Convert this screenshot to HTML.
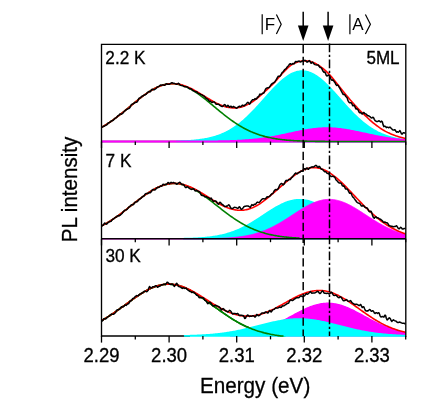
<!DOCTYPE html>
<html><head><meta charset="utf-8"><title>PL spectra</title>
<style>html,body{margin:0;padding:0;background:#fff;}body{width:436px;height:409px;position:relative;overflow:hidden;font-family:"Liberation Sans",sans-serif;}</style></head>
<body>
<svg width="436" height="409" viewBox="0 0 436 409" style="position:absolute;left:0;top:0;will-change:transform">
<rect width="436" height="409" fill="#fff"/>
<defs><clipPath id="c"><rect x="101.5" y="44.3" width="304.3" height="293.7"/></clipPath></defs>
<g clip-path="url(#c)">
<line x1="101.5" y1="141.5" x2="405.8" y2="141.5" stroke="#000" stroke-width="1.35"/>
<path d="M176.50,141.21 L177.50,141.18 L178.50,141.15 L179.50,141.12 L180.50,141.09 L181.50,141.05 L182.50,141.01 L183.50,140.97 L184.50,140.93 L185.50,140.88 L186.50,140.83 L187.50,140.77 L188.50,140.71 L189.50,140.65 L190.50,140.58 L191.50,140.50 L192.50,140.42 L193.50,140.34 L194.50,140.25 L195.50,140.15 L196.50,140.05 L197.50,139.94 L198.50,139.82 L199.50,139.69 L200.50,139.56 L201.50,139.42 L202.50,139.27 L203.50,139.11 L204.50,138.94 L205.50,138.76 L206.50,138.57 L207.50,138.37 L208.50,138.16 L209.50,137.94 L210.50,137.70 L211.50,137.45 L212.50,137.19 L213.50,136.91 L214.50,136.62 L215.50,136.32 L216.50,136.00 L217.50,135.66 L218.50,135.31 L219.50,134.94 L220.50,134.56 L221.50,134.15 L222.50,133.73 L223.50,133.29 L224.50,132.83 L225.50,132.36 L226.50,131.86 L227.50,131.34 L228.50,130.80 L229.50,130.24 L230.50,129.66 L231.50,129.06 L232.50,128.44 L233.50,127.80 L234.50,127.13 L235.50,126.45 L236.50,125.74 L237.50,125.01 L238.50,124.25 L239.50,123.48 L240.50,122.68 L241.50,121.87 L242.50,121.03 L243.50,120.17 L244.50,119.29 L245.50,118.38 L246.50,117.46 L247.50,116.52 L248.50,115.57 L249.50,114.59 L250.50,113.60 L251.50,112.58 L252.50,111.56 L253.50,110.52 L254.50,109.46 L255.50,108.39 L256.50,107.31 L257.50,106.22 L258.50,105.12 L259.50,104.02 L260.50,102.90 L261.50,101.78 L262.50,100.66 L263.50,99.53 L264.50,98.40 L265.50,97.27 L266.50,96.15 L267.50,95.03 L268.50,93.91 L269.50,92.80 L270.50,91.70 L271.50,90.61 L272.50,89.53 L273.50,88.47 L274.50,87.42 L275.50,86.39 L276.50,85.38 L277.50,84.39 L278.50,83.42 L279.50,82.48 L280.50,81.57 L281.50,80.68 L282.50,79.82 L283.50,79.00 L284.50,78.21 L285.50,77.45 L286.50,76.73 L287.50,76.04 L288.50,75.40 L289.50,74.79 L290.50,74.23 L291.50,73.70 L292.50,73.23 L293.50,72.79 L294.50,72.40 L295.50,72.06 L296.50,71.77 L297.50,71.52 L298.50,71.32 L299.50,71.17 L300.50,71.06 L301.50,71.01 L302.50,71.00 L303.50,71.05 L304.50,71.14 L305.50,71.28 L306.50,71.47 L307.50,71.71 L308.50,72.00 L309.50,72.33 L310.50,72.71 L311.50,73.14 L312.50,73.60 L313.50,74.12 L314.50,74.67 L315.50,75.27 L316.50,75.91 L317.50,76.59 L318.50,77.30 L319.50,78.05 L320.50,78.84 L321.50,79.66 L322.50,80.51 L323.50,81.39 L324.50,82.30 L325.50,83.23 L326.50,84.20 L327.50,85.18 L328.50,86.19 L329.50,87.21 L330.50,88.26 L331.50,89.32 L332.50,90.39 L333.50,91.48 L334.50,92.58 L335.50,93.69 L336.50,94.80 L337.50,95.92 L338.50,97.05 L339.50,98.18 L340.50,99.30 L341.50,100.43 L342.50,101.56 L343.50,102.68 L344.50,103.79 L345.50,104.90 L346.50,106.00 L347.50,107.10 L348.50,108.18 L349.50,109.25 L350.50,110.31 L351.50,111.35 L352.50,112.38 L353.50,113.39 L354.50,114.39 L355.50,115.37 L356.50,116.33 L357.50,117.28 L358.50,118.20 L359.50,119.11 L360.50,119.99 L361.50,120.86 L362.50,121.70 L363.50,122.52 L364.50,123.32 L365.50,124.10 L366.50,124.86 L367.50,125.59 L368.50,126.31 L369.50,127.00 L370.50,127.67 L371.50,128.31 L372.50,128.94 L373.50,129.55 L374.50,130.13 L375.50,130.69 L376.50,131.23 L377.50,131.76 L378.50,132.26 L379.50,132.74 L380.50,133.20 L381.50,133.65 L382.50,134.07 L383.50,134.48 L384.50,134.87 L385.50,135.24 L386.50,135.59 L387.50,135.93 L388.50,136.26 L389.50,136.56 L390.50,136.86 L391.50,137.14 L392.50,137.40 L393.50,137.65 L394.50,137.89 L395.50,138.12 L396.50,138.33 L397.50,138.53 L398.50,138.72 L399.50,138.91 L400.50,139.08 L401.50,139.24 L402.50,139.39 L403.50,139.53 L404.50,139.67 L405.50,139.79 L405.50,141.50 L176.50,141.50 Z" fill="#00ffff" stroke="#00ffff" stroke-width="1.4" stroke-linejoin="round"/>
<path d="M101.50,141.50 L102.50,141.50 L103.50,141.50 L104.50,141.50 L105.50,141.50 L106.50,141.50 L107.50,141.50 L108.50,141.50 L109.50,141.50 L110.50,141.50 L111.50,141.50 L112.50,141.50 L113.50,141.50 L114.50,141.50 L115.50,141.50 L116.50,141.50 L117.50,141.50 L118.50,141.50 L119.50,141.50 L120.50,141.50 L121.50,141.50 L122.50,141.50 L123.50,141.50 L124.50,141.50 L125.50,141.50 L126.50,141.50 L127.50,141.50 L128.50,141.50 L129.50,141.50 L130.50,141.50 L131.50,141.50 L132.50,141.50 L133.50,141.50 L134.50,141.50 L135.50,141.50 L136.50,141.50 L137.50,141.50 L138.50,141.50 L139.50,141.50 L140.50,141.50 L141.50,141.50 L142.50,141.50 L143.50,141.50 L144.50,141.50 L145.50,141.50 L146.50,141.50 L147.50,141.50 L148.50,141.50 L149.50,141.50 L150.50,141.50 L151.50,141.50 L152.50,141.50 L153.50,141.50 L154.50,141.50 L155.50,141.50 L156.50,141.50 L157.50,141.50 L158.50,141.50 L159.50,141.50 L160.50,141.50 L161.50,141.50 L162.50,141.50 L163.50,141.50 L164.50,141.50 L165.50,141.50 L166.50,141.50 L167.50,141.50 L168.50,141.50 L169.50,141.50 L170.50,141.50 L171.50,141.50 L172.50,141.50 L173.50,141.50 L174.50,141.50 L175.50,141.50 L176.50,141.50 L177.50,141.50 L178.50,141.50 L179.50,141.50 L180.50,141.49 L181.50,141.49 L182.50,141.49 L183.50,141.49 L184.50,141.49 L185.50,141.49 L186.50,141.49 L187.50,141.49 L188.50,141.49 L189.50,141.49 L190.50,141.49 L191.50,141.48 L192.50,141.48 L193.50,141.48 L194.50,141.48 L195.50,141.48 L196.50,141.47 L197.50,141.47 L198.50,141.47 L199.50,141.46 L200.50,141.46 L201.50,141.46 L202.50,141.45 L203.50,141.45 L204.50,141.44 L205.50,141.44 L206.50,141.43 L207.50,141.43 L208.50,141.42 L209.50,141.41 L210.50,141.41 L211.50,141.40 L212.50,141.39 L213.50,141.38 L214.50,141.37 L215.50,141.36 L216.50,141.35 L217.50,141.33 L218.50,141.32 L219.50,141.30 L220.50,141.29 L221.50,141.27 L222.50,141.25 L223.50,141.23 L224.50,141.21 L225.50,141.19 L226.50,141.17 L227.50,141.14 L228.50,141.12 L229.50,141.09 L230.50,141.06 L231.50,141.02 L232.50,140.99 L233.50,140.95 L234.50,140.92 L235.50,140.88 L236.50,140.83 L237.50,140.79 L238.50,140.74 L239.50,140.69 L240.50,140.63 L241.50,140.58 L242.50,140.52 L243.50,140.46 L244.50,140.39 L245.50,140.32 L246.50,140.25 L247.50,140.18 L248.50,140.10 L249.50,140.02 L250.50,139.93 L251.50,139.84 L252.50,139.75 L253.50,139.65 L254.50,139.55 L255.50,139.44 L256.50,139.33 L257.50,139.22 L258.50,139.10 L259.50,138.98 L260.50,138.86 L261.50,138.72 L262.50,138.59 L263.50,138.45 L264.50,138.31 L265.50,138.16 L266.50,138.01 L267.50,137.85 L268.50,137.69 L269.50,137.52 L270.50,137.36 L271.50,137.18 L272.50,137.01 L273.50,136.82 L274.50,136.64 L275.50,136.45 L276.50,136.26 L277.50,136.07 L278.50,135.87 L279.50,135.67 L280.50,135.46 L281.50,135.26 L282.50,135.05 L283.50,134.84 L284.50,134.62 L285.50,134.41 L286.50,134.19 L287.50,133.98 L288.50,133.76 L289.50,133.54 L290.50,133.32 L291.50,133.11 L292.50,132.89 L293.50,132.67 L294.50,132.46 L295.50,132.24 L296.50,132.03 L297.50,131.82 L298.50,131.61 L299.50,131.41 L300.50,131.21 L301.50,131.01 L302.50,130.82 L303.50,130.63 L304.50,130.45 L305.50,130.27 L306.50,130.09 L307.50,129.92 L308.50,129.76 L309.50,129.61 L310.50,129.46 L311.50,129.32 L312.50,129.18 L313.50,129.06 L314.50,128.94 L315.50,128.83 L316.50,128.72 L317.50,128.63 L318.50,128.55 L319.50,128.47 L320.50,128.40 L321.50,128.35 L322.50,128.30 L323.50,128.26 L324.50,128.23 L325.50,128.21 L326.50,128.20 L327.50,128.20 L328.50,128.21 L329.50,128.23 L330.50,128.26 L331.50,128.30 L332.50,128.35 L333.50,128.40 L334.50,128.47 L335.50,128.55 L336.50,128.63 L337.50,128.72 L338.50,128.83 L339.50,128.94 L340.50,129.06 L341.50,129.18 L342.50,129.32 L343.50,129.46 L344.50,129.61 L345.50,129.76 L346.50,129.92 L347.50,130.09 L348.50,130.27 L349.50,130.45 L350.50,130.63 L351.50,130.82 L352.50,131.01 L353.50,131.21 L354.50,131.41 L355.50,131.61 L356.50,131.82 L357.50,132.03 L358.50,132.24 L359.50,132.46 L360.50,132.67 L361.50,132.89 L362.50,133.11 L363.50,133.32 L364.50,133.54 L365.50,133.76 L366.50,133.98 L367.50,134.19 L368.50,134.41 L369.50,134.62 L370.50,134.84 L371.50,135.05 L372.50,135.26 L373.50,135.46 L374.50,135.67 L375.50,135.87 L376.50,136.07 L377.50,136.26 L378.50,136.45 L379.50,136.64 L380.50,136.82 L381.50,137.01 L382.50,137.18 L383.50,137.36 L384.50,137.52 L385.50,137.69 L386.50,137.85 L387.50,138.01 L388.50,138.16 L389.50,138.31 L390.50,138.45 L391.50,138.59 L392.50,138.72 L393.50,138.86 L394.50,138.98 L395.50,139.10 L396.50,139.22 L397.50,139.33 L398.50,139.44 L399.50,139.55 L400.50,139.65 L401.50,139.75 L402.50,139.84 L403.50,139.93 L404.50,140.02 L405.50,140.10 L405.50,141.50 L101.50,141.50 Z" fill="#ff00ff" stroke="#ff00ff" stroke-width="1.9" stroke-linejoin="round"/>
<path d="M101.50,127.37 L102.50,126.80 L103.50,126.21 L104.50,125.61 L105.50,125.00 L106.50,124.37 L107.50,123.73 L108.50,123.07 L109.50,122.40 L110.50,121.72 L111.50,121.02 L112.50,120.31 L113.50,119.59 L114.50,118.86 L115.50,118.11 L116.50,117.36 L117.50,116.59 L118.50,115.82 L119.50,115.04 L120.50,114.25 L121.50,113.45 L122.50,112.64 L123.50,111.83 L124.50,111.01 L125.50,110.18 L126.50,109.36 L127.50,108.53 L128.50,107.69 L129.50,106.86 L130.50,106.03 L131.50,105.19 L132.50,104.36 L133.50,103.53 L134.50,102.70 L135.50,101.88 L136.50,101.06 L137.50,100.25 L138.50,99.45 L139.50,98.65 L140.50,97.87 L141.50,97.10 L142.50,96.34 L143.50,95.59 L144.50,94.85 L145.50,94.13 L146.50,93.43 L147.50,92.74 L148.50,92.08 L149.50,91.43 L150.50,90.80 L151.50,90.19 L152.50,89.61 L153.50,89.04 L154.50,88.51 L155.50,87.99 L156.50,87.51 L157.50,87.04 L158.50,86.61 L159.50,86.20 L160.50,85.83 L161.50,85.48 L162.50,85.16 L163.50,84.87 L164.50,84.61 L165.50,84.39 L166.50,84.19 L167.50,84.03 L168.50,83.90 L169.50,83.80 L170.50,83.74 L171.50,83.70 L172.50,83.70 L173.50,83.74 L174.50,83.80 L175.50,83.90 L176.50,84.03 L177.50,84.19 L178.50,84.39 L179.50,84.61 L180.50,84.87 L181.50,85.16 L182.50,85.48 L183.50,85.83 L184.50,86.20 L185.50,86.61 L186.50,87.04 L187.50,87.51 L188.50,87.99 L189.50,88.51 L190.50,89.04 L191.50,89.61 L192.50,90.19 L193.50,90.80 L194.50,91.43 L195.50,92.08 L196.50,92.74 L197.50,93.43 L198.50,94.13 L199.50,94.85 L200.50,95.59 L201.50,96.34 L202.50,97.10 L203.50,97.87 L204.50,98.65 L205.50,99.45 L206.50,100.25 L207.50,101.06 L208.50,101.88 L209.50,102.70 L210.50,103.53 L211.50,104.36 L212.50,105.19 L213.50,106.03 L214.50,106.86 L215.50,107.69 L216.50,108.53 L217.50,109.36 L218.50,110.18 L219.50,111.01 L220.50,111.83 L221.50,112.64 L222.50,113.45 L223.50,114.25 L224.50,115.04 L225.50,115.82 L226.50,116.59 L227.50,117.36 L228.50,118.11 L229.50,118.86 L230.50,119.59 L231.50,120.31 L232.50,121.02 L233.50,121.72 L234.50,122.40 L235.50,123.07 L236.50,123.73 L237.50,124.37 L238.50,125.00 L239.50,125.61 L240.50,126.21 L241.50,126.80 L242.50,127.37 L243.50,127.93 L244.50,128.47 L245.50,129.00 L246.50,129.51 L247.50,130.01 L248.50,130.50 L249.50,130.97 L250.50,131.42 L251.50,131.86 L252.50,132.29 L253.50,132.70 L254.50,133.10 L255.50,133.49 L256.50,133.86 L257.50,134.22 L258.50,134.57 L259.50,134.90 L260.50,135.22 L261.50,135.53 L262.50,135.83 L263.50,136.11 L264.50,136.39 L265.50,136.65 L266.50,136.90 L267.50,137.14 L268.50,137.37 L269.50,137.59 L270.50,137.81 L271.50,138.01 L272.50,138.20 L273.50,138.38 L274.50,138.56 L275.50,138.73 L276.50,138.88 L277.50,139.04 L278.50,139.18 L279.50,139.32 L280.50,139.45 L281.50,139.57 L282.50,139.69 L283.50,139.80 L284.50,139.90 L285.50,140.00 L286.50,140.09 L287.50,140.18 L288.50,140.27 L289.50,140.35 L290.50,140.42 L291.50,140.49 L292.50,140.56 L293.50,140.62 L294.50,140.68 L295.50,140.73 L296.50,140.79 L297.50,140.83 L298.50,140.88 L299.50,140.92 L300.50,140.96 L301.50,141.00 L302.50,141.04 L303.50,141.07 L304.50,141.10 L305.50,141.13 L306.50,141.16 L307.50,141.18 L308.50,141.21 L309.50,141.23 L310.50,141.25 L311.50,141.27 L312.50,141.29 L313.50,141.30 L314.50,141.32 L315.50,141.33 L316.50,141.34 L317.50,141.36 L318.50,141.37 L319.50,141.38 L320.50,141.39 L321.50,141.40 L322.50,141.41 L323.50,141.41 L324.50,141.42 L325.50,141.43 L326.50,141.43 L327.50,141.44 L328.50,141.44 L329.50,141.45 L330.50,141.45 L331.50,141.46 L332.50,141.46 L333.50,141.46 L334.50,141.47 L335.50,141.47 L336.50,141.47 L337.50,141.48 L338.50,141.48 L339.50,141.48 L340.50,141.48 L341.50,141.48 L342.50,141.48 L343.50,141.49 L344.50,141.49 L345.50,141.49 L346.50,141.49 L347.50,141.49 L348.50,141.49 L349.50,141.49 L350.50,141.49 L351.50,141.49 L352.50,141.49 L353.50,141.49 L354.50,141.50 L355.50,141.50 L356.50,141.50 L357.50,141.50 L358.50,141.50 L359.50,141.50 L360.50,141.50 L361.50,141.50 L362.50,141.50 L363.50,141.50 L364.50,141.50 L365.50,141.50 L366.50,141.50 L367.50,141.50 L368.50,141.50 L369.50,141.50 L370.50,141.50 L371.50,141.50 L372.50,141.50 L373.50,141.50 L374.50,141.50 L375.50,141.50 L376.50,141.50 L377.50,141.50 L378.50,141.50 L379.50,141.50 L380.50,141.50 L381.50,141.50 L382.50,141.50 L383.50,141.50 L384.50,141.50 L385.50,141.50 L386.50,141.50 L387.50,141.50 L388.50,141.50 L389.50,141.50 L390.50,141.50 L391.50,141.50 L392.50,141.50 L393.50,141.50 L394.50,141.50 L395.50,141.50 L396.50,141.50 L397.50,141.50 L398.50,141.50 L399.50,141.50 L400.50,141.50 L401.50,141.50 L402.50,141.50 L403.50,141.50 L404.50,141.50 L405.50,141.50" fill="none" stroke="#008000" stroke-width="1.6" stroke-linejoin="round" stroke-linecap="butt"/>
<path d="M101.50,127.37 L102.50,126.80 L103.50,126.22 L104.50,125.62 L105.50,125.01 L106.50,124.38 L107.50,123.74 L108.50,123.09 L109.50,122.42 L110.50,121.74 L111.50,121.04 L112.50,120.34 L113.50,119.62 L114.50,118.89 L115.50,118.15 L116.50,117.39 L117.50,116.63 L118.50,115.86 L119.50,115.08 L120.50,114.29 L121.50,113.49 L122.50,112.69 L123.50,111.88 L124.50,111.06 L125.50,110.24 L126.50,109.42 L127.50,108.59 L128.50,107.76 L129.50,106.92 L130.50,106.09 L131.50,105.26 L132.50,104.43 L133.50,103.60 L134.50,102.77 L135.50,101.95 L136.50,101.14 L137.50,100.33 L138.50,99.53 L139.50,98.74 L140.50,97.95 L141.50,97.18 L142.50,96.42 L143.50,95.67 L144.50,94.94 L145.50,94.22 L146.50,93.52 L147.50,92.83 L148.50,92.17 L149.50,91.52 L150.50,90.89 L151.50,90.28 L152.50,89.70 L153.50,89.13 L154.50,88.59 L155.50,88.08 L156.50,87.59 L157.50,87.13 L158.50,86.69 L159.50,86.28 L160.50,85.90 L161.50,85.55 L162.50,85.22 L163.50,84.93 L164.50,84.66 L165.50,84.43 L166.50,84.23 L167.50,84.05 L168.50,83.91 L169.50,83.80 L170.50,83.73 L171.50,83.68 L172.50,83.66 L173.50,83.68 L174.50,83.73 L175.50,83.80 L176.50,83.91 L177.50,84.05 L178.50,84.22 L179.50,84.41 L180.50,84.64 L181.50,84.89 L182.50,85.17 L183.50,85.48 L184.50,85.82 L185.50,86.17 L186.50,86.56 L187.50,86.96 L188.50,87.39 L189.50,87.84 L190.50,88.31 L191.50,88.80 L192.50,89.31 L193.50,89.83 L194.50,90.37 L195.50,90.92 L196.50,91.48 L197.50,92.06 L198.50,92.64 L199.50,93.24 L200.50,93.84 L201.50,94.44 L202.50,95.05 L203.50,95.66 L204.50,96.28 L205.50,96.89 L206.50,97.50 L207.50,98.10 L208.50,98.71 L209.50,99.30 L210.50,99.89 L211.50,100.46 L212.50,101.03 L213.50,101.58 L214.50,102.11 L215.50,102.64 L216.50,103.14 L217.50,103.62 L218.50,104.09 L219.50,104.53 L220.50,104.95 L221.50,105.35 L222.50,105.72 L223.50,106.06 L224.50,106.38 L225.50,106.67 L226.50,106.93 L227.50,107.15 L228.50,107.35 L229.50,107.51 L230.50,107.65 L231.50,107.77 L232.50,107.85 L233.50,107.90 L234.50,107.91 L235.50,107.89 L236.50,107.82 L237.50,107.72 L238.50,107.58 L239.50,107.41 L240.50,107.19 L241.50,106.94 L242.50,106.65 L243.50,106.32 L244.50,105.96 L245.50,105.55 L246.50,105.11 L247.50,104.63 L248.50,104.12 L249.50,103.57 L250.50,102.99 L251.50,102.37 L252.50,101.72 L253.50,101.04 L254.50,100.33 L255.50,99.59 L256.50,98.82 L257.50,98.02 L258.50,97.20 L259.50,96.35 L260.50,95.50 L261.50,94.64 L262.50,93.76 L263.50,92.87 L264.50,91.96 L265.50,91.03 L266.50,90.10 L267.50,89.15 L268.50,88.20 L269.50,87.24 L270.50,86.27 L271.50,85.31 L272.50,84.34 L273.50,83.38 L274.50,82.42 L275.50,81.34 L276.50,80.15 L277.50,78.98 L278.50,77.81 L279.50,76.66 L280.50,75.53 L281.50,74.42 L282.50,73.33 L283.50,72.25 L284.50,71.18 L285.50,70.14 L286.50,69.13 L287.50,68.15 L288.50,67.21 L289.50,66.30 L290.50,65.54 L291.50,64.91 L292.50,64.33 L293.50,63.79 L294.50,63.29 L295.50,62.84 L296.50,62.43 L297.50,62.07 L298.50,61.76 L299.50,61.49 L300.50,61.27 L301.50,61.10 L302.50,60.99 L303.50,60.92 L304.50,60.88 L305.50,60.87 L306.50,60.91 L307.50,61.01 L308.50,61.15 L309.50,61.35 L310.50,61.59 L311.50,61.89 L312.50,62.23 L313.50,62.63 L314.50,63.07 L315.50,63.55 L316.50,64.08 L317.50,64.66 L318.50,65.27 L319.50,65.93 L320.50,66.63 L321.50,67.38 L322.50,68.15 L323.50,68.97 L324.50,69.82 L325.50,70.71 L326.50,71.62 L327.50,72.57 L328.50,73.55 L329.50,74.60 L330.50,75.73 L331.50,76.89 L332.50,78.07 L333.50,79.26 L334.50,80.48 L335.50,81.71 L336.50,82.95 L337.50,84.21 L338.50,85.47 L339.50,86.75 L340.50,88.00 L341.50,89.23 L342.50,90.46 L343.50,91.69 L344.50,92.92 L345.50,94.15 L346.50,95.38 L347.50,96.60 L348.50,97.82 L349.50,99.02 L350.50,100.20 L351.50,101.35 L352.50,102.49 L353.50,103.61 L354.50,104.72 L355.50,105.81 L356.50,106.89 L357.50,107.95 L358.50,108.99 L359.50,110.02 L360.50,111.03 L361.50,112.01 L362.50,112.98 L363.50,113.92 L364.50,114.85 L365.50,115.81 L366.50,116.80 L367.50,117.77 L368.50,118.72 L369.50,119.65 L370.50,120.56 L371.50,121.44 L372.50,122.29 L373.50,123.13 L374.50,123.94 L375.50,124.73 L376.50,125.49 L377.50,126.23 L378.50,126.95 L379.50,127.65 L380.50,128.32 L381.50,128.97 L382.50,129.60 L383.50,130.21 L384.50,130.80 L385.50,131.35 L386.50,131.87 L387.50,132.37 L388.50,132.85 L389.50,133.30 L390.50,133.75 L391.50,134.17 L392.50,134.58 L393.50,134.96 L394.50,135.34 L395.50,135.69 L396.50,136.04 L397.50,136.36 L398.50,136.68 L399.50,136.98 L400.50,137.26 L401.50,137.54 L402.50,137.80 L403.50,138.05 L404.50,138.29 L405.50,138.51" fill="none" stroke="#ff0000" stroke-width="1.6" stroke-linejoin="round" stroke-linecap="butt"/>
<path d="M101.50,126.99 L102.30,126.96 L103.10,126.66 L103.90,126.16 L104.70,125.92 L105.50,125.35 L106.30,125.00 L107.10,124.64 L107.90,123.36 L108.70,122.70 L109.50,122.60 L110.30,121.98 L111.10,121.22 L111.90,120.77 L112.70,120.56 L113.50,120.09 L114.30,118.98 L115.10,118.17 L115.90,117.89 L116.70,117.37 L117.50,116.21 L118.30,115.63 L119.10,115.12 L119.90,114.07 L120.70,114.06 L121.50,114.17 L122.30,113.67 L123.10,112.95 L123.90,111.70 L124.70,110.98 L125.50,110.40 L126.30,109.61 L127.10,109.28 L127.90,108.77 L128.70,108.54 L129.50,108.01 L130.30,106.78 L131.10,105.05 L131.90,104.17 L132.70,104.11 L133.50,103.60 L134.30,102.99 L135.10,102.51 L135.90,102.35 L136.70,102.34 L137.50,101.47 L138.30,99.60 L139.10,98.17 L139.90,98.05 L140.70,97.62 L141.50,96.51 L142.30,96.09 L143.10,95.81 L143.90,95.24 L144.70,94.80 L145.50,94.64 L146.30,94.14 L147.10,93.11 L147.90,92.21 L148.70,91.56 L149.50,91.73 L150.30,91.77 L151.10,90.51 L151.90,89.33 L152.70,89.51 L153.50,89.78 L154.30,89.64 L155.10,89.06 L155.90,88.55 L156.70,87.84 L157.50,86.95 L158.30,86.64 L159.10,86.37 L159.90,85.36 L160.70,85.08 L161.50,85.32 L162.30,85.12 L163.10,84.81 L163.90,85.19 L164.70,85.32 L165.50,84.47 L166.30,83.73 L167.10,84.00 L167.90,84.36 L168.70,84.32 L169.50,84.16 L170.30,83.70 L171.10,82.91 L171.90,82.67 L172.70,83.05 L173.50,83.24 L174.30,83.31 L175.10,83.67 L175.90,84.00 L176.70,84.31 L177.50,83.87 L178.30,83.24 L179.10,83.79 L179.90,84.72 L180.70,85.37 L181.50,85.62 L182.30,85.46 L183.10,85.89 L183.90,86.51 L184.70,86.68 L185.50,86.72 L186.30,86.71 L187.10,86.88 L187.90,87.34 L188.70,88.22 L189.50,88.78 L190.30,88.68 L191.10,88.74 L191.90,89.57 L192.70,90.47 L193.50,90.68 L194.30,91.07 L195.10,91.71 L195.90,91.82 L196.70,91.81 L197.50,92.77 L198.30,93.60 L199.10,93.57 L199.90,93.94 L200.70,94.47 L201.50,94.63 L202.30,95.15 L203.10,95.64 L203.90,96.03 L204.70,96.84 L205.50,97.81 L206.30,98.46 L207.10,98.86 L207.90,99.36 L208.70,100.49 L209.50,101.17 L210.30,101.02 L211.10,101.84 L211.90,102.49 L212.70,102.03 L213.50,101.92 L214.30,102.09 L215.10,102.88 L215.90,103.94 L216.70,104.26 L217.50,104.18 L218.30,104.24 L219.10,104.67 L219.90,105.30 L220.70,105.82 L221.50,106.25 L222.30,106.59 L223.10,106.08 L223.90,105.06 L224.70,104.50 L225.50,105.32 L226.30,106.73 L227.10,106.11 L227.90,105.28 L228.70,106.12 L229.50,107.25 L230.30,106.55 L231.10,106.23 L231.90,107.41 L232.70,106.98 L233.50,106.42 L234.30,107.12 L235.10,107.31 L235.90,107.81 L236.70,108.22 L237.50,107.60 L238.30,106.84 L239.10,106.32 L239.90,106.26 L240.70,106.81 L241.50,106.20 L242.30,105.10 L243.10,105.38 L243.90,105.91 L244.70,105.16 L245.50,104.64 L246.30,103.95 L247.10,102.90 L247.90,102.24 L248.70,103.02 L249.50,104.19 L250.30,103.29 L251.10,101.40 L251.90,100.43 L252.70,99.64 L253.50,99.67 L254.30,99.50 L255.10,98.63 L255.90,99.20 L256.70,98.70 L257.50,97.04 L258.30,96.89 L259.10,95.68 L259.90,94.05 L260.70,94.39 L261.50,94.36 L262.30,93.37 L263.10,93.36 L263.90,92.95 L264.70,91.03 L265.50,89.26 L266.30,88.32 L267.10,87.90 L267.90,87.78 L268.70,87.68 L269.50,87.23 L270.30,85.93 L271.10,84.61 L271.90,83.80 L272.70,83.18 L273.50,82.95 L274.30,82.40 L275.10,81.41 L275.90,80.17 L276.70,78.81 L277.50,77.43 L278.30,76.18 L279.10,76.13 L279.90,76.21 L280.70,75.42 L281.50,73.74 L282.30,72.34 L283.10,71.92 L283.90,70.77 L284.70,69.41 L285.50,69.09 L286.30,68.44 L287.10,67.03 L287.90,66.30 L288.70,65.38 L289.50,64.08 L290.30,63.67 L291.10,64.35 L291.90,64.31 L292.70,63.53 L293.50,63.71 L294.30,63.66 L295.10,62.15 L295.90,61.43 L296.70,61.68 L297.50,61.72 L298.30,61.15 L299.10,61.10 L299.90,61.77 L300.70,61.96 L301.50,61.49 L302.30,61.07 L303.10,60.82 L303.90,60.65 L304.70,60.36 L305.50,60.43 L306.30,61.47 L307.10,62.22 L307.90,61.76 L308.70,60.91 L309.50,60.58 L310.30,61.77 L311.10,63.31 L311.90,62.68 L312.70,62.05 L313.50,63.33 L314.30,64.25 L315.10,64.60 L315.90,64.87 L316.70,64.97 L317.50,65.03 L318.30,65.05 L319.10,66.24 L319.90,67.40 L320.70,67.50 L321.50,68.09 L322.30,69.67 L323.10,71.36 L323.90,72.27 L324.70,71.92 L325.50,73.24 L326.30,75.44 L327.10,76.07 L327.90,75.18 L328.70,75.06 L329.50,76.00 L330.30,77.48 L331.10,79.44 L331.90,80.31 L332.70,79.85 L333.50,80.63 L334.30,81.67 L335.10,82.74 L335.90,84.60 L336.70,85.42 L337.50,84.98 L338.30,85.65 L339.10,87.05 L339.90,88.34 L340.70,89.97 L341.50,91.48 L342.30,92.96 L343.10,94.46 L343.90,94.37 L344.70,94.61 L345.50,96.10 L346.30,96.99 L347.10,97.83 L347.90,100.31 L348.70,101.95 L349.50,102.66 L350.30,102.82 L351.10,102.67 L351.90,103.79 L352.70,105.82 L353.50,105.67 L354.30,105.17 L355.10,107.14 L355.90,109.00 L356.70,108.85 L357.50,109.13 L358.30,110.41 L359.10,112.15 L359.90,112.81 L360.70,112.51 L361.50,113.39 L362.30,114.07 L363.10,112.78 L363.90,112.53 L364.70,113.56 L365.50,113.90 L366.30,114.22 L367.10,115.24 L367.90,115.74 L368.70,115.77 L369.50,116.35 L370.30,116.92 L371.10,117.82 L371.90,118.03 L372.70,117.34 L373.50,117.49 L374.30,119.33 L375.10,120.66 L375.90,121.11 L376.70,121.55 L377.50,121.61 L378.30,121.14 L379.10,120.72 L379.90,121.46 L380.70,122.03 L381.50,121.14 L382.30,121.80 L383.10,124.85 L383.90,126.67 L384.70,126.14 L385.50,126.37 L386.30,127.69 L387.10,127.22 L387.90,127.26 L388.70,127.82 L389.50,127.22 L390.30,127.28 L391.10,128.26 L391.90,129.00 L392.70,129.88 L393.50,130.10 L394.30,129.76 L395.10,129.81 L395.90,131.27 L396.70,132.17 L397.50,131.77 L398.30,132.17 L399.10,131.49 L399.90,130.61 L400.70,132.08 L401.50,134.03 L402.30,133.95 L403.10,132.83 L403.90,132.78 L404.70,133.04 L405.50,133.16" fill="none" stroke="#000" stroke-width="1.5" stroke-linejoin="round" stroke-linecap="butt"/>
<path d="M183.50,238.58 L184.50,238.56 L185.50,238.54 L186.50,238.52 L187.50,238.49 L188.50,238.46 L189.50,238.44 L190.50,238.40 L191.50,238.37 L192.50,238.33 L193.50,238.29 L194.50,238.25 L195.50,238.20 L196.50,238.15 L197.50,238.10 L198.50,238.04 L199.50,237.98 L200.50,237.91 L201.50,237.84 L202.50,237.77 L203.50,237.69 L204.50,237.60 L205.50,237.51 L206.50,237.42 L207.50,237.31 L208.50,237.21 L209.50,237.09 L210.50,236.97 L211.50,236.84 L212.50,236.70 L213.50,236.56 L214.50,236.40 L215.50,236.24 L216.50,236.07 L217.50,235.89 L218.50,235.70 L219.50,235.50 L220.50,235.29 L221.50,235.07 L222.50,234.84 L223.50,234.60 L224.50,234.35 L225.50,234.09 L226.50,233.81 L227.50,233.52 L228.50,233.22 L229.50,232.91 L230.50,232.59 L231.50,232.25 L232.50,231.90 L233.50,231.54 L234.50,231.16 L235.50,230.77 L236.50,230.36 L237.50,229.95 L238.50,229.52 L239.50,229.07 L240.50,228.61 L241.50,228.14 L242.50,227.66 L243.50,227.16 L244.50,226.65 L245.50,226.13 L246.50,225.59 L247.50,225.04 L248.50,224.49 L249.50,223.92 L250.50,223.33 L251.50,222.74 L252.50,222.14 L253.50,221.53 L254.50,220.92 L255.50,220.29 L256.50,219.66 L257.50,219.02 L258.50,218.37 L259.50,217.72 L260.50,217.07 L261.50,216.41 L262.50,215.75 L263.50,215.09 L264.50,214.43 L265.50,213.77 L266.50,213.11 L267.50,212.46 L268.50,211.81 L269.50,211.16 L270.50,210.53 L271.50,209.89 L272.50,209.27 L273.50,208.66 L274.50,208.06 L275.50,207.47 L276.50,206.89 L277.50,206.33 L278.50,205.79 L279.50,205.26 L280.50,204.75 L281.50,204.25 L282.50,203.78 L283.50,203.33 L284.50,202.90 L285.50,202.49 L286.50,202.11 L287.50,201.75 L288.50,201.42 L289.50,201.11 L290.50,200.83 L291.50,200.58 L292.50,200.36 L293.50,200.16 L294.50,199.99 L295.50,199.85 L296.50,199.75 L297.50,199.67 L298.50,199.62 L299.50,199.60 L300.50,199.61 L301.50,199.65 L302.50,199.73 L303.50,199.83 L304.50,199.96 L305.50,200.12 L306.50,200.31 L307.50,200.53 L308.50,200.78 L309.50,201.05 L310.50,201.36 L311.50,201.68 L312.50,202.04 L313.50,202.42 L314.50,202.82 L315.50,203.24 L316.50,203.69 L317.50,204.16 L318.50,204.65 L319.50,205.15 L320.50,205.68 L321.50,206.22 L322.50,206.78 L323.50,207.35 L324.50,207.94 L325.50,208.54 L326.50,209.15 L327.50,209.77 L328.50,210.40 L329.50,211.04 L330.50,211.68 L331.50,212.33 L332.50,212.98 L333.50,213.64 L334.50,214.30 L335.50,214.96 L336.50,215.62 L337.50,216.28 L338.50,216.94 L339.50,217.59 L340.50,218.24 L341.50,218.89 L342.50,219.53 L343.50,220.16 L344.50,220.79 L345.50,221.41 L346.50,222.02 L347.50,222.62 L348.50,223.22 L349.50,223.80 L350.50,224.37 L351.50,224.93 L352.50,225.48 L353.50,226.02 L354.50,226.55 L355.50,227.06 L356.50,227.56 L357.50,228.05 L358.50,228.52 L359.50,228.98 L360.50,229.43 L361.50,229.86 L362.50,230.28 L363.50,230.69 L364.50,231.08 L365.50,231.46 L366.50,231.83 L367.50,232.18 L368.50,232.52 L369.50,232.85 L370.50,233.16 L371.50,233.47 L372.50,233.76 L373.50,234.03 L374.50,234.30 L375.50,234.55 L376.50,234.80 L377.50,235.03 L378.50,235.25 L379.50,235.46 L380.50,235.66 L381.50,235.85 L382.50,236.03 L383.50,236.21 L384.50,236.37 L385.50,236.53 L386.50,236.67 L387.50,236.81 L388.50,236.94 L389.50,237.07 L390.50,237.18 L391.50,237.29 L392.50,237.40 L393.50,237.49 L394.50,237.59 L395.50,237.67 L396.50,237.75 L397.50,237.83 L398.50,237.90 L399.50,237.97 L400.50,238.03 L401.50,238.09 L402.50,238.14 L403.50,238.19 L404.50,238.24 L405.50,238.28 L405.50,238.80 L183.50,238.80 Z" fill="#00ffff" stroke="#00ffff" stroke-width="1.4" stroke-linejoin="round"/>
<path d="M101.50,238.80 L102.50,238.80 L103.50,238.80 L104.50,238.80 L105.50,238.80 L106.50,238.80 L107.50,238.80 L108.50,238.80 L109.50,238.80 L110.50,238.80 L111.50,238.80 L112.50,238.80 L113.50,238.80 L114.50,238.80 L115.50,238.80 L116.50,238.80 L117.50,238.80 L118.50,238.80 L119.50,238.80 L120.50,238.80 L121.50,238.80 L122.50,238.80 L123.50,238.80 L124.50,238.80 L125.50,238.80 L126.50,238.80 L127.50,238.80 L128.50,238.80 L129.50,238.80 L130.50,238.80 L131.50,238.80 L132.50,238.80 L133.50,238.80 L134.50,238.80 L135.50,238.80 L136.50,238.80 L137.50,238.80 L138.50,238.80 L139.50,238.80 L140.50,238.80 L141.50,238.80 L142.50,238.80 L143.50,238.80 L144.50,238.80 L145.50,238.80 L146.50,238.80 L147.50,238.80 L148.50,238.80 L149.50,238.80 L150.50,238.80 L151.50,238.80 L152.50,238.80 L153.50,238.80 L154.50,238.80 L155.50,238.80 L156.50,238.80 L157.50,238.80 L158.50,238.80 L159.50,238.80 L160.50,238.80 L161.50,238.80 L162.50,238.80 L163.50,238.80 L164.50,238.80 L165.50,238.80 L166.50,238.80 L167.50,238.80 L168.50,238.80 L169.50,238.80 L170.50,238.80 L171.50,238.80 L172.50,238.80 L173.50,238.80 L174.50,238.79 L175.50,238.79 L176.50,238.79 L177.50,238.79 L178.50,238.79 L179.50,238.79 L180.50,238.79 L181.50,238.79 L182.50,238.79 L183.50,238.79 L184.50,238.78 L185.50,238.78 L186.50,238.78 L187.50,238.78 L188.50,238.78 L189.50,238.77 L190.50,238.77 L191.50,238.77 L192.50,238.76 L193.50,238.76 L194.50,238.75 L195.50,238.75 L196.50,238.74 L197.50,238.74 L198.50,238.73 L199.50,238.73 L200.50,238.72 L201.50,238.71 L202.50,238.70 L203.50,238.69 L204.50,238.68 L205.50,238.67 L206.50,238.66 L207.50,238.64 L208.50,238.63 L209.50,238.61 L210.50,238.60 L211.50,238.58 L212.50,238.56 L213.50,238.53 L214.50,238.51 L215.50,238.48 L216.50,238.46 L217.50,238.43 L218.50,238.39 L219.50,238.36 L220.50,238.32 L221.50,238.28 L222.50,238.24 L223.50,238.19 L224.50,238.14 L225.50,238.09 L226.50,238.03 L227.50,237.97 L228.50,237.91 L229.50,237.84 L230.50,237.76 L231.50,237.68 L232.50,237.60 L233.50,237.51 L234.50,237.41 L235.50,237.31 L236.50,237.21 L237.50,237.09 L238.50,236.97 L239.50,236.84 L240.50,236.71 L241.50,236.57 L242.50,236.42 L243.50,236.26 L244.50,236.09 L245.50,235.92 L246.50,235.73 L247.50,235.54 L248.50,235.33 L249.50,235.12 L250.50,234.90 L251.50,234.66 L252.50,234.42 L253.50,234.16 L254.50,233.89 L255.50,233.61 L256.50,233.32 L257.50,233.02 L258.50,232.70 L259.50,232.37 L260.50,232.03 L261.50,231.68 L262.50,231.31 L263.50,230.93 L264.50,230.54 L265.50,230.14 L266.50,229.72 L267.50,229.29 L268.50,228.84 L269.50,228.38 L270.50,227.91 L271.50,227.43 L272.50,226.93 L273.50,226.42 L274.50,225.90 L275.50,225.37 L276.50,224.83 L277.50,224.27 L278.50,223.71 L279.50,223.13 L280.50,222.54 L281.50,221.95 L282.50,221.34 L283.50,220.73 L284.50,220.11 L285.50,219.48 L286.50,218.85 L287.50,218.21 L288.50,217.57 L289.50,216.92 L290.50,216.27 L291.50,215.62 L292.50,214.97 L293.50,214.32 L294.50,213.66 L295.50,213.01 L296.50,212.37 L297.50,211.72 L298.50,211.08 L299.50,210.45 L300.50,209.83 L301.50,209.21 L302.50,208.61 L303.50,208.01 L304.50,207.42 L305.50,206.85 L306.50,206.29 L307.50,205.75 L308.50,205.22 L309.50,204.71 L310.50,204.22 L311.50,203.75 L312.50,203.30 L313.50,202.86 L314.50,202.45 L315.50,202.07 L316.50,201.70 L317.50,201.36 L318.50,201.05 L319.50,200.76 L320.50,200.50 L321.50,200.26 L322.50,200.05 L323.50,199.87 L324.50,199.72 L325.50,199.60 L326.50,199.51 L327.50,199.44 L328.50,199.41 L329.50,199.40 L330.50,199.42 L331.50,199.48 L332.50,199.56 L333.50,199.67 L334.50,199.81 L335.50,199.98 L336.50,200.18 L337.50,200.40 L338.50,200.65 L339.50,200.93 L340.50,201.23 L341.50,201.56 L342.50,201.92 L343.50,202.30 L344.50,202.70 L345.50,203.12 L346.50,203.56 L347.50,204.03 L348.50,204.51 L349.50,205.02 L350.50,205.54 L351.50,206.07 L352.50,206.63 L353.50,207.19 L354.50,207.77 L355.50,208.37 L356.50,208.97 L357.50,209.58 L358.50,210.20 L359.50,210.83 L360.50,211.47 L361.50,212.11 L362.50,212.75 L363.50,213.40 L364.50,214.05 L365.50,214.71 L366.50,215.36 L367.50,216.01 L368.50,216.66 L369.50,217.31 L370.50,217.96 L371.50,218.60 L372.50,219.23 L373.50,219.86 L374.50,220.48 L375.50,221.10 L376.50,221.71 L377.50,222.31 L378.50,222.90 L379.50,223.48 L380.50,224.05 L381.50,224.61 L382.50,225.15 L383.50,225.69 L384.50,226.22 L385.50,226.73 L386.50,227.23 L387.50,227.72 L388.50,228.20 L389.50,228.66 L390.50,229.11 L391.50,229.55 L392.50,229.97 L393.50,230.38 L394.50,230.78 L395.50,231.16 L396.50,231.53 L397.50,231.89 L398.50,232.24 L399.50,232.57 L400.50,232.89 L401.50,233.20 L402.50,233.50 L403.50,233.78 L404.50,234.05 L405.50,234.31 L405.50,238.80 L101.50,238.80 Z" fill="#ff00ff" stroke="#ff00ff" stroke-width="0.9" stroke-linejoin="round"/>
<path d="M101.50,225.98 L102.50,225.46 L103.50,224.92 L104.50,224.37 L105.50,223.80 L106.50,223.23 L107.50,222.64 L108.50,222.03 L109.50,221.41 L110.50,220.78 L111.50,220.14 L112.50,219.49 L113.50,218.82 L114.50,218.14 L115.50,217.45 L116.50,216.75 L117.50,216.04 L118.50,215.32 L119.50,214.59 L120.50,213.85 L121.50,213.11 L122.50,212.35 L123.50,211.59 L124.50,210.83 L125.50,210.05 L126.50,209.27 L127.50,208.49 L128.50,207.71 L129.50,206.92 L130.50,206.13 L131.50,205.34 L132.50,204.55 L133.50,203.76 L134.50,202.97 L135.50,202.18 L136.50,201.40 L137.50,200.62 L138.50,199.85 L139.50,199.08 L140.50,198.33 L141.50,197.58 L142.50,196.84 L143.50,196.11 L144.50,195.39 L145.50,194.68 L146.50,193.99 L147.50,193.31 L148.50,192.65 L149.50,192.00 L150.50,191.37 L151.50,190.76 L152.50,190.17 L153.50,189.60 L154.50,189.05 L155.50,188.52 L156.50,188.02 L157.50,187.53 L158.50,187.07 L159.50,186.64 L160.50,186.23 L161.50,185.85 L162.50,185.50 L163.50,185.17 L164.50,184.87 L165.50,184.60 L166.50,184.36 L167.50,184.15 L168.50,183.96 L169.50,183.81 L170.50,183.69 L171.50,183.60 L172.50,183.53 L173.50,183.50 L174.50,183.50 L175.50,183.53 L176.50,183.60 L177.50,183.69 L178.50,183.81 L179.50,183.96 L180.50,184.15 L181.50,184.36 L182.50,184.60 L183.50,184.87 L184.50,185.17 L185.50,185.50 L186.50,185.85 L187.50,186.23 L188.50,186.64 L189.50,187.07 L190.50,187.53 L191.50,188.02 L192.50,188.52 L193.50,189.05 L194.50,189.60 L195.50,190.17 L196.50,190.76 L197.50,191.37 L198.50,192.00 L199.50,192.65 L200.50,193.31 L201.50,193.99 L202.50,194.68 L203.50,195.39 L204.50,196.11 L205.50,196.84 L206.50,197.58 L207.50,198.33 L208.50,199.08 L209.50,199.85 L210.50,200.62 L211.50,201.40 L212.50,202.18 L213.50,202.97 L214.50,203.76 L215.50,204.55 L216.50,205.34 L217.50,206.13 L218.50,206.92 L219.50,207.71 L220.50,208.49 L221.50,209.27 L222.50,210.05 L223.50,210.83 L224.50,211.59 L225.50,212.35 L226.50,213.11 L227.50,213.85 L228.50,214.59 L229.50,215.32 L230.50,216.04 L231.50,216.75 L232.50,217.45 L233.50,218.14 L234.50,218.82 L235.50,219.49 L236.50,220.14 L237.50,220.78 L238.50,221.41 L239.50,222.03 L240.50,222.64 L241.50,223.23 L242.50,223.80 L243.50,224.37 L244.50,224.92 L245.50,225.46 L246.50,225.98 L247.50,226.49 L248.50,226.99 L249.50,227.47 L250.50,227.94 L251.50,228.39 L252.50,228.84 L253.50,229.27 L254.50,229.68 L255.50,230.08 L256.50,230.47 L257.50,230.85 L258.50,231.21 L259.50,231.56 L260.50,231.90 L261.50,232.22 L262.50,232.54 L263.50,232.84 L264.50,233.13 L265.50,233.41 L266.50,233.68 L267.50,233.94 L268.50,234.19 L269.50,234.42 L270.50,234.65 L271.50,234.87 L272.50,235.08 L273.50,235.28 L274.50,235.47 L275.50,235.65 L276.50,235.82 L277.50,235.99 L278.50,236.15 L279.50,236.30 L280.50,236.44 L281.50,236.58 L282.50,236.71 L283.50,236.83 L284.50,236.95 L285.50,237.06 L286.50,237.16 L287.50,237.26 L288.50,237.36 L289.50,237.45 L290.50,237.53 L291.50,237.61 L292.50,237.69 L293.50,237.76 L294.50,237.83 L295.50,237.89 L296.50,237.95 L297.50,238.00 L298.50,238.06 L299.50,238.11" fill="none" stroke="#008000" stroke-width="1.6" stroke-linejoin="round" stroke-linecap="butt"/>
<path d="M101.50,225.98 L102.50,225.46 L103.50,224.92 L104.50,224.37 L105.50,223.80 L106.50,223.23 L107.50,222.64 L108.50,222.03 L109.50,221.41 L110.50,220.78 L111.50,220.14 L112.50,219.49 L113.50,218.82 L114.50,218.14 L115.50,217.45 L116.50,216.75 L117.50,216.04 L118.50,215.32 L119.50,214.59 L120.50,213.85 L121.50,213.11 L122.50,212.35 L123.50,211.59 L124.50,210.83 L125.50,210.05 L126.50,209.27 L127.50,208.49 L128.50,207.71 L129.50,206.92 L130.50,206.13 L131.50,205.34 L132.50,204.55 L133.50,203.76 L134.50,202.97 L135.50,202.18 L136.50,201.40 L137.50,200.62 L138.50,199.85 L139.50,199.08 L140.50,198.32 L141.50,197.57 L142.50,196.83 L143.50,196.10 L144.50,195.38 L145.50,194.68 L146.50,193.98 L147.50,193.31 L148.50,192.64 L149.50,192.00 L150.50,191.37 L151.50,190.75 L152.50,190.16 L153.50,189.59 L154.50,189.04 L155.50,188.51 L156.50,188.00 L157.50,187.52 L158.50,187.06 L159.50,186.62 L160.50,186.21 L161.50,185.83 L162.50,185.47 L163.50,185.14 L164.50,184.83 L165.50,184.56 L166.50,184.31 L167.50,184.10 L168.50,183.91 L169.50,183.75 L170.50,183.62 L171.50,183.52 L172.50,183.45 L173.50,183.41 L174.50,183.40 L175.50,183.42 L176.50,183.47 L177.50,183.55 L178.50,183.66 L179.50,183.80 L180.50,183.97 L181.50,184.16 L182.50,184.39 L183.50,184.64 L184.50,184.92 L185.50,185.22 L186.50,185.55 L187.50,185.90 L188.50,186.28 L189.50,186.68 L190.50,187.10 L191.50,187.55 L192.50,188.01 L193.50,188.49 L194.50,189.00 L195.50,189.52 L196.50,190.05 L197.50,190.60 L198.50,191.17 L199.50,191.75 L200.50,192.33 L201.50,192.93 L202.50,193.54 L203.50,194.16 L204.50,194.78 L205.50,195.41 L206.50,196.04 L207.50,196.67 L208.50,197.30 L209.50,197.94 L210.50,198.57 L211.50,199.20 L212.50,199.82 L213.50,200.44 L214.50,201.05 L215.50,201.65 L216.50,202.24 L217.50,202.82 L218.50,203.39 L219.50,203.94 L220.50,204.48 L221.50,205.00 L222.50,205.50 L223.50,205.98 L224.50,206.45 L225.50,206.89 L226.50,207.31 L227.50,207.71 L228.50,208.08 L229.50,208.42 L230.50,208.74 L231.50,209.03 L232.50,209.30 L233.50,209.53 L234.50,209.74 L235.50,209.91 L236.50,210.05 L237.50,210.16 L238.50,210.24 L239.50,210.28 L240.50,210.29 L241.50,210.27 L242.50,210.21 L243.50,210.12 L244.50,209.99 L245.50,209.83 L246.50,209.63 L247.50,209.40 L248.50,209.13 L249.50,208.83 L250.50,208.49 L251.50,208.12 L252.50,207.72 L253.50,207.28 L254.50,206.81 L255.50,206.30 L256.50,205.77 L257.50,205.20 L258.50,204.60 L259.50,203.98 L260.50,203.32 L261.50,202.64 L262.50,201.93 L263.50,201.20 L264.50,200.44 L265.50,199.66 L266.50,198.86 L267.50,198.03 L268.50,197.19 L269.50,196.33 L270.50,195.48 L271.50,194.65 L272.50,193.81 L273.50,192.96 L274.50,192.09 L275.50,191.22 L276.50,190.35 L277.50,189.47 L278.50,188.58 L279.50,187.70 L280.50,186.81 L281.50,185.93 L282.50,185.06 L283.50,184.19 L284.50,183.33 L285.50,182.48 L286.50,181.65 L287.50,180.82 L288.50,180.02 L289.50,179.23 L290.50,178.42 L291.50,177.60 L292.50,176.79 L293.50,176.02 L294.50,175.27 L295.50,174.54 L296.50,173.85 L297.50,173.19 L298.50,172.56 L299.50,171.96 L300.50,171.40 L301.50,170.87 L302.50,170.38 L303.50,169.93 L304.50,169.51 L305.50,169.14 L306.50,168.81 L307.50,168.52 L308.50,168.27 L309.50,168.06 L310.50,167.90 L311.50,167.78 L312.50,167.70 L313.50,167.67 L314.50,167.68 L315.50,167.73 L316.50,167.81 L317.50,167.94 L318.50,168.11 L319.50,168.33 L320.50,168.59 L321.50,168.89 L322.50,169.23 L323.50,169.61 L324.50,170.04 L325.50,170.50 L326.50,171.00 L327.50,171.54 L328.50,172.12 L329.50,172.73 L330.50,173.38 L331.50,174.06 L332.50,174.78 L333.50,175.52 L334.50,176.30 L335.50,177.10 L336.50,177.93 L337.50,178.79 L338.50,179.67 L339.50,180.57 L340.50,181.50 L341.50,182.44 L342.50,183.41 L343.50,184.39 L344.50,185.38 L345.50,186.39 L346.50,187.41 L347.50,188.44 L348.50,189.48 L349.50,190.53 L350.50,191.59 L351.50,192.65 L352.50,193.71 L353.50,194.77 L354.50,195.83 L355.50,196.90 L356.50,197.96 L357.50,199.01 L358.50,200.07 L359.50,201.11 L360.50,202.15 L361.50,203.18 L362.50,204.20 L363.50,205.21 L364.50,206.21 L365.50,207.20 L366.50,208.17 L367.50,209.13 L368.50,210.08 L369.50,211.00 L370.50,211.92 L371.50,212.81 L372.50,213.72 L373.50,214.63 L374.50,215.53 L375.50,216.40 L376.50,217.26 L377.50,218.10 L378.50,218.92 L379.50,219.72 L380.50,220.50 L381.50,221.25 L382.50,221.99 L383.50,222.71 L384.50,223.41 L385.50,224.08 L386.50,224.74 L387.50,225.37 L388.50,225.99 L389.50,226.59 L390.50,227.16 L391.50,227.72 L392.50,228.26 L393.50,228.78 L394.50,229.28 L395.50,229.77 L396.50,230.26 L397.50,230.73 L398.50,231.18 L399.50,231.62 L400.50,232.04 L401.50,232.44 L402.50,232.83 L403.50,233.20 L404.50,233.56 L405.50,233.90" fill="none" stroke="#ff0000" stroke-width="1.6" stroke-linejoin="round" stroke-linecap="butt"/>
<path d="M101.50,225.71 L102.30,225.56 L103.10,225.33 L103.90,224.05 L104.70,223.10 L105.50,223.54 L106.30,224.21 L107.10,223.76 L107.90,222.79 L108.70,222.13 L109.50,221.70 L110.30,221.55 L111.10,221.31 L111.90,220.05 L112.70,219.26 L113.50,219.00 L114.30,218.27 L115.10,217.38 L115.90,217.31 L116.70,216.85 L117.50,215.84 L118.30,215.57 L119.10,215.95 L119.90,215.42 L120.70,214.61 L121.50,214.01 L122.30,213.20 L123.10,211.97 L123.90,211.13 L124.70,210.15 L125.50,209.97 L126.30,209.76 L127.10,209.39 L127.90,208.36 L128.70,207.25 L129.50,206.61 L130.30,206.04 L131.10,205.06 L131.90,204.69 L132.70,204.81 L133.50,204.55 L134.30,203.15 L135.10,202.19 L135.90,201.88 L136.70,201.79 L137.50,201.44 L138.30,200.32 L139.10,199.47 L139.90,198.95 L140.70,198.49 L141.50,197.90 L142.30,196.82 L143.10,196.34 L143.90,195.99 L144.70,194.80 L145.50,193.85 L146.30,193.49 L147.10,193.50 L147.90,193.51 L148.70,192.99 L149.50,192.60 L150.30,192.69 L151.10,191.91 L151.90,190.58 L152.70,189.62 L153.50,189.59 L154.30,190.02 L155.10,189.88 L155.90,189.00 L156.70,187.91 L157.50,187.48 L158.30,187.51 L159.10,187.34 L159.90,186.49 L160.70,185.90 L161.50,186.20 L162.30,185.52 L163.10,184.27 L163.90,184.47 L164.70,184.71 L165.50,184.49 L166.30,184.53 L167.10,183.88 L167.90,182.52 L168.70,182.78 L169.50,183.81 L170.30,183.05 L171.10,182.26 L171.90,182.96 L172.70,182.80 L173.50,182.49 L174.30,182.96 L175.10,183.14 L175.90,183.64 L176.70,184.29 L177.50,183.71 L178.30,183.17 L179.10,182.65 L179.90,182.21 L180.70,183.16 L181.50,184.25 L182.30,184.48 L183.10,184.38 L183.90,184.94 L184.70,186.37 L185.50,187.48 L186.30,187.42 L187.10,186.72 L187.90,186.92 L188.70,187.79 L189.50,188.36 L190.30,188.90 L191.10,189.29 L191.90,189.39 L192.70,189.05 L193.50,188.73 L194.30,189.53 L195.10,190.78 L195.90,190.90 L196.70,190.38 L197.50,190.81 L198.30,191.44 L199.10,191.42 L199.90,192.24 L200.70,194.00 L201.50,195.34 L202.30,195.65 L203.10,195.39 L203.90,195.85 L204.70,196.70 L205.50,196.89 L206.30,196.69 L207.10,197.21 L207.90,197.50 L208.70,197.63 L209.50,198.92 L210.30,198.95 L211.10,198.01 L211.90,199.28 L212.70,200.84 L213.50,201.33 L214.30,201.08 L215.10,200.85 L215.90,201.11 L216.70,202.02 L217.50,203.56 L218.30,204.26 L219.10,203.33 L219.90,202.22 L220.70,202.78 L221.50,203.90 L222.30,204.40 L223.10,204.94 L223.90,205.79 L224.70,206.45 L225.50,206.38 L226.30,206.09 L227.10,206.19 L227.90,205.55 L228.70,204.77 L229.50,205.43 L230.30,207.20 L231.10,208.22 L231.90,208.52 L232.70,208.50 L233.50,207.84 L234.30,207.27 L235.10,207.37 L235.90,207.58 L236.70,207.86 L237.50,208.32 L238.30,208.08 L239.10,206.77 L239.90,207.16 L240.70,208.77 L241.50,209.34 L242.30,208.90 L243.10,207.83 L243.90,206.74 L244.70,206.34 L245.50,206.17 L246.30,206.06 L247.10,205.96 L247.90,206.04 L248.70,206.29 L249.50,206.94 L250.30,207.51 L251.10,205.93 L251.90,204.55 L252.70,205.32 L253.50,205.27 L254.30,204.16 L255.10,204.27 L255.90,203.94 L256.70,202.69 L257.50,202.12 L258.30,202.38 L259.10,202.50 L259.90,201.68 L260.70,200.76 L261.50,199.87 L262.30,198.95 L263.10,198.66 L263.90,198.69 L264.70,198.88 L265.50,198.85 L266.30,197.69 L267.10,196.84 L267.90,197.06 L268.70,196.87 L269.50,196.26 L270.30,195.73 L271.10,194.49 L271.90,193.71 L272.70,193.58 L273.50,192.29 L274.30,190.69 L275.10,189.82 L275.90,189.48 L276.70,189.73 L277.50,189.56 L278.30,188.53 L279.10,186.55 L279.90,184.69 L280.70,183.97 L281.50,183.52 L282.30,183.92 L283.10,185.00 L283.90,184.42 L284.70,182.86 L285.50,180.97 L286.30,180.28 L287.10,180.85 L287.90,180.40 L288.70,179.58 L289.50,179.57 L290.30,179.45 L291.10,178.31 L291.90,177.32 L292.70,176.61 L293.50,175.44 L294.30,174.57 L295.10,173.55 L295.90,172.93 L296.70,173.72 L297.50,173.68 L298.30,172.70 L299.10,172.61 L299.90,172.24 L300.70,171.30 L301.50,171.09 L302.30,171.36 L303.10,170.42 L303.90,168.79 L304.70,168.70 L305.50,169.58 L306.30,168.23 L307.10,167.93 L307.90,169.23 L308.70,169.17 L309.50,168.03 L310.30,167.62 L311.10,167.27 L311.90,166.79 L312.70,167.06 L313.50,167.01 L314.30,166.46 L315.10,165.89 L315.90,165.38 L316.70,165.79 L317.50,167.20 L318.30,167.18 L319.10,166.36 L319.90,166.92 L320.70,168.57 L321.50,169.33 L322.30,169.32 L323.10,169.99 L323.90,170.94 L324.70,171.71 L325.50,171.76 L326.30,172.15 L327.10,173.38 L327.90,173.57 L328.70,173.60 L329.50,174.93 L330.30,175.82 L331.10,176.42 L331.90,176.38 L332.70,176.25 L333.50,176.73 L334.30,176.77 L335.10,177.73 L335.90,179.74 L336.70,180.50 L337.50,181.29 L338.30,182.33 L339.10,182.89 L339.90,183.02 L340.70,182.89 L341.50,183.77 L342.30,185.69 L343.10,186.23 L343.90,185.78 L344.70,187.12 L345.50,189.06 L346.30,189.01 L347.10,188.96 L347.90,189.95 L348.70,191.67 L349.50,193.14 L350.30,193.10 L351.10,193.18 L351.90,195.23 L352.70,197.02 L353.50,197.35 L354.30,198.57 L355.10,199.70 L355.90,200.75 L356.70,201.97 L357.50,202.59 L358.30,202.95 L359.10,203.23 L359.90,203.59 L360.70,204.80 L361.50,206.11 L362.30,206.05 L363.10,205.42 L363.90,206.02 L364.70,207.12 L365.50,207.67 L366.30,207.79 L367.10,208.01 L367.90,209.09 L368.70,211.02 L369.50,211.79 L370.30,211.31 L371.10,211.22 L371.90,213.25 L372.70,215.93 L373.50,217.60 L374.30,218.23 L375.10,217.14 L375.90,216.80 L376.70,217.74 L377.50,217.81 L378.30,217.99 L379.10,218.64 L379.90,219.01 L380.70,219.40 L381.50,220.08 L382.30,220.63 L383.10,221.69 L383.90,222.40 L384.70,222.00 L385.50,222.20 L386.30,222.88 L387.10,222.76 L387.90,223.57 L388.70,225.09 L389.50,225.69 L390.30,225.89 L391.10,226.25 L391.90,226.18 L392.70,226.67 L393.50,226.82 L394.30,226.50 L395.10,226.52 L395.90,226.03 L396.70,225.80 L397.50,227.24 L398.30,228.39 L399.10,228.83 L399.90,228.12 L400.70,227.22 L401.50,227.85 L402.30,229.04 L403.10,229.06 L403.90,228.49 L404.70,228.55 L405.50,228.75" fill="none" stroke="#000" stroke-width="1.5" stroke-linejoin="round" stroke-linecap="butt"/>
<line x1="101.5" y1="238.8" x2="405.8" y2="238.8" stroke="#0a000a" stroke-width="1.55"/>
<line x1="101.5" y1="336.0" x2="190" y2="336.0" stroke="#000" stroke-width="1.35"/>
<path d="M230.50,335.06 L231.50,334.99 L232.50,334.91 L233.50,334.83 L234.50,334.75 L235.50,334.66 L236.50,334.56 L237.50,334.46 L238.50,334.36 L239.50,334.24 L240.50,334.12 L241.50,334.00 L242.50,333.86 L243.50,333.72 L244.50,333.57 L245.50,333.42 L246.50,333.26 L247.50,333.08 L248.50,332.90 L249.50,332.71 L250.50,332.52 L251.50,332.31 L252.50,332.09 L253.50,331.87 L254.50,331.63 L255.50,331.39 L256.50,331.13 L257.50,330.87 L258.50,330.59 L259.50,330.30 L260.50,330.01 L261.50,329.70 L262.50,329.38 L263.50,329.05 L264.50,328.71 L265.50,328.36 L266.50,327.99 L267.50,327.62 L268.50,327.24 L269.50,326.84 L270.50,326.43 L271.50,326.02 L272.50,325.59 L273.50,325.15 L274.50,324.71 L275.50,324.25 L276.50,323.78 L277.50,323.31 L278.50,322.83 L279.50,322.33 L280.50,321.84 L281.50,321.33 L282.50,320.82 L283.50,320.30 L284.50,319.77 L285.50,319.24 L286.50,318.71 L287.50,318.17 L288.50,317.63 L289.50,317.09 L290.50,316.54 L291.50,316.00 L292.50,315.45 L293.50,314.91 L294.50,314.37 L295.50,313.83 L296.50,313.29 L297.50,312.76 L298.50,312.23 L299.50,311.72 L300.50,311.20 L301.50,310.70 L302.50,310.20 L303.50,309.72 L304.50,309.25 L305.50,308.78 L306.50,308.34 L307.50,307.90 L308.50,307.48 L309.50,307.07 L310.50,306.68 L311.50,306.31 L312.50,305.96 L313.50,305.62 L314.50,305.31 L315.50,305.01 L316.50,304.73 L317.50,304.48 L318.50,304.25 L319.50,304.04 L320.50,303.85 L321.50,303.68 L322.50,303.54 L323.50,303.43 L324.50,303.33 L325.50,303.27 L326.50,303.22 L327.50,303.20 L328.50,303.21 L329.50,303.24 L330.50,303.29 L331.50,303.37 L332.50,303.47 L333.50,303.60 L334.50,303.75 L335.50,303.92 L336.50,304.12 L337.50,304.34 L338.50,304.58 L339.50,304.84 L340.50,305.13 L341.50,305.43 L342.50,305.76 L343.50,306.10 L344.50,306.46 L345.50,306.84 L346.50,307.23 L347.50,307.65 L348.50,308.07 L349.50,308.51 L350.50,308.97 L351.50,309.43 L352.50,309.91 L353.50,310.40 L354.50,310.90 L355.50,311.41 L356.50,311.92 L357.50,312.44 L358.50,312.97 L359.50,313.51 L360.50,314.04 L361.50,314.58 L362.50,315.13 L363.50,315.67 L364.50,316.21 L365.50,316.76 L366.50,317.30 L367.50,317.85 L368.50,318.39 L369.50,318.92 L370.50,319.45 L371.50,319.98 L372.50,320.50 L373.50,321.02 L374.50,321.53 L375.50,322.04 L376.50,322.53 L377.50,323.02 L378.50,323.50 L379.50,323.97 L380.50,324.43 L381.50,324.89 L382.50,325.33 L383.50,325.76 L384.50,326.19 L385.50,326.60 L386.50,327.00 L387.50,327.39 L388.50,327.77 L389.50,328.14 L390.50,328.50 L391.50,328.85 L392.50,329.18 L393.50,329.51 L394.50,329.82 L395.50,330.13 L396.50,330.42 L397.50,330.70 L398.50,330.97 L399.50,331.24 L400.50,331.49 L401.50,331.73 L402.50,331.96 L403.50,332.18 L404.50,332.39 L405.50,332.60 L405.50,336.00 L230.50,336.00 Z" fill="#ff00ff" stroke="#ff00ff" stroke-width="1.2" stroke-linejoin="round"/>
<path d="M101.50,320.61 L102.50,320.05 L103.50,319.47 L104.50,318.89 L105.50,318.29 L106.50,317.68 L107.50,317.06 L108.50,316.43 L109.50,315.79 L110.50,315.14 L111.50,314.48 L112.50,313.82 L113.50,313.14 L114.50,312.46 L115.50,311.77 L116.50,311.07 L117.50,310.36 L118.50,309.65 L119.50,308.94 L120.50,308.22 L121.50,307.50 L122.50,306.77 L123.50,306.04 L124.50,305.31 L125.50,304.58 L126.50,303.85 L127.50,303.12 L128.50,302.39 L129.50,301.67 L130.50,300.95 L131.50,300.23 L132.50,299.51 L133.50,298.81 L134.50,298.11 L135.50,297.41 L136.50,296.73 L137.50,296.05 L138.50,295.39 L139.50,294.74 L140.50,294.10 L141.50,293.47 L142.50,292.85 L143.50,292.25 L144.50,291.67 L145.50,291.10 L146.50,290.55 L147.50,290.02 L148.50,289.51 L149.50,289.02 L150.50,288.55 L151.50,288.09 L152.50,287.66 L153.50,287.26 L154.50,286.87 L155.50,286.51 L156.50,286.18 L157.50,285.87 L158.50,285.58 L159.50,285.32 L160.50,285.09 L161.50,284.88 L162.50,284.70 L163.50,284.55 L164.50,284.42 L165.50,284.33 L166.50,284.26 L167.50,284.21 L168.50,284.20 L169.50,284.21 L170.50,284.26 L171.50,284.33 L172.50,284.42 L173.50,284.55 L174.50,284.70 L175.50,284.88 L176.50,285.09 L177.50,285.32 L178.50,285.58 L179.50,285.87 L180.50,286.18 L181.50,286.51 L182.50,286.87 L183.50,287.26 L184.50,287.66 L185.50,288.09 L186.50,288.55 L187.50,289.02 L188.50,289.51 L189.50,290.02 L190.50,290.55 L191.50,291.10 L192.50,291.67 L193.50,292.25 L194.50,292.85 L195.50,293.47 L196.50,294.10 L197.50,294.74 L198.50,295.39 L199.50,296.05 L200.50,296.73 L201.50,297.41 L202.50,298.11 L203.50,298.81 L204.50,299.51 L205.50,300.23 L206.50,300.95 L207.50,301.67 L208.50,302.39 L209.50,303.12 L210.50,303.85 L211.50,304.58 L212.50,305.31 L213.50,306.04 L214.50,306.77 L215.50,307.50 L216.50,308.22 L217.50,308.94 L218.50,309.65 L219.50,310.36 L220.50,311.07 L221.50,311.77 L222.50,312.46 L223.50,313.14 L224.50,313.82 L225.50,314.50 L226.50,315.19 L227.50,315.87 L228.50,316.54 L229.50,317.20 L230.50,317.85 L231.50,318.49 L232.50,319.11 L233.50,319.73 L234.50,320.34 L235.50,320.93 L236.50,321.51 L237.50,322.08 L238.50,322.64 L239.50,323.18 L240.50,323.71 L241.50,324.24 L242.50,324.74 L243.50,325.24 L244.50,325.72 L245.50,326.19 L246.50,326.65 L247.50,327.09 L248.50,327.53 L249.50,327.95 L250.50,328.36 L251.50,328.75 L252.50,329.14 L253.50,329.51 L254.50,329.87 L255.50,330.23 L256.50,330.56 L257.50,330.89 L258.50,331.21 L259.50,331.52 L260.50,331.81 L261.50,332.10 L262.50,332.38 L263.50,332.64 L264.50,332.90 L265.50,333.15 L266.50,333.39 L267.50,333.62 L268.50,333.84 L269.50,334.05 L270.50,334.26 L271.50,334.45 L272.50,334.64 L273.50,334.83 L274.50,335.00 L275.50,335.17 L276.50,335.33 L277.50,335.49 L278.50,335.64 L279.50,335.78 L280.50,335.92 L281.50,336.00 L282.50,336.00 L283.50,336.00 L284.50,336.00 L285.50,336.00" fill="none" stroke="#008000" stroke-width="1.6" stroke-linejoin="round" stroke-linecap="butt"/>
<path d="M184.50,335.71 L185.50,335.69 L186.50,335.67 L187.50,335.64 L188.50,335.62 L189.50,335.59 L190.50,335.56 L191.50,335.53 L192.50,335.50 L193.50,335.47 L194.50,335.43 L195.50,335.39 L196.50,335.35 L197.50,335.31 L198.50,335.26 L199.50,335.22 L200.50,335.17 L201.50,335.12 L202.50,335.06 L203.50,335.00 L204.50,334.94 L205.50,334.88 L206.50,334.81 L207.50,334.74 L208.50,334.67 L209.50,334.59 L210.50,334.51 L211.50,334.43 L212.50,334.34 L213.50,334.25 L214.50,334.15 L215.50,334.05 L216.50,333.95 L217.50,333.84 L218.50,333.73 L219.50,333.62 L220.50,333.50 L221.50,333.37 L222.50,333.24 L223.50,333.11 L224.50,332.97 L225.50,332.83 L226.50,332.68 L227.50,332.53 L228.50,332.37 L229.50,332.21 L230.50,332.04 L231.50,331.87 L232.50,331.69 L233.50,331.51 L234.50,331.33 L235.50,331.14 L236.50,330.94 L237.50,330.74 L238.50,330.54 L239.50,330.33 L240.50,330.12 L241.50,329.91 L242.50,329.68 L243.50,329.46 L244.50,329.23 L245.50,329.00 L246.50,328.77 L247.50,328.53 L248.50,328.29 L249.50,328.04 L250.50,327.80 L251.50,327.55 L252.50,327.30 L253.50,327.04 L254.50,326.79 L255.50,326.53 L256.50,326.27 L257.50,326.02 L258.50,325.76 L259.50,325.50 L260.50,325.24 L261.50,324.98 L262.50,324.73 L263.50,324.47 L264.50,324.21 L265.50,323.96 L266.50,323.71 L267.50,323.46 L268.50,323.22 L269.50,322.98 L270.50,322.74 L271.50,322.51 L272.50,322.28 L273.50,322.05 L274.50,321.83 L275.50,321.62 L276.50,321.41 L277.50,321.21 L278.50,321.01 L279.50,320.83 L280.50,320.64 L281.50,320.47 L282.50,320.30 L283.50,320.15 L284.50,320.00 L285.50,319.86 L286.50,319.72 L287.50,319.60 L288.50,319.49 L289.50,319.38 L290.50,319.29 L291.50,319.20 L292.50,319.13 L293.50,319.07 L294.50,319.01 L295.50,318.97 L296.50,318.94 L297.50,318.91 L298.50,318.90 L299.50,318.90 L300.50,318.91 L301.50,318.93 L302.50,318.96 L303.50,319.00 L304.50,319.05 L305.50,319.12 L306.50,319.19 L307.50,319.27 L308.50,319.36 L309.50,319.47 L310.50,319.58 L311.50,319.70 L312.50,319.83 L313.50,319.97 L314.50,320.12 L315.50,320.27 L316.50,320.44 L317.50,320.61 L318.50,320.79 L319.50,320.98 L320.50,321.17 L321.50,321.37 L322.50,321.58 L323.50,321.79 L324.50,322.01 L325.50,322.23 L326.50,322.46 L327.50,322.69 L328.50,322.93 L329.50,323.17 L330.50,323.42 L331.50,323.66 L332.50,323.91 L333.50,324.16 L334.50,324.42 L335.50,324.67 L336.50,324.93 L337.50,325.19 L338.50,325.45 L339.50,325.71 L340.50,325.96 L341.50,326.22 L342.50,326.48 L343.50,326.74 L344.50,326.99 L345.50,327.24 L346.50,327.50 L347.50,327.75 L348.50,327.99 L349.50,328.24 L350.50,328.48 L351.50,328.72 L352.50,328.95 L353.50,329.19 L354.50,329.42 L355.50,329.64 L356.50,329.86 L357.50,330.08 L358.50,330.29 L359.50,330.50 L360.50,330.70 L361.50,330.90 L362.50,331.10 L363.50,331.29 L364.50,331.48 L365.50,331.66 L366.50,331.84 L367.50,332.01 L368.50,332.18 L369.50,332.34 L370.50,332.50 L371.50,332.65 L372.50,332.80 L373.50,332.94 L374.50,333.08 L375.50,333.22 L376.50,333.35 L377.50,333.47 L378.50,333.59 L379.50,333.71 L380.50,333.82 L381.50,333.93 L382.50,334.03 L383.50,334.13 L384.50,334.23 L385.50,334.32 L386.50,334.41 L387.50,334.49 L388.50,334.58 L389.50,334.65 L390.50,334.73 L391.50,334.80 L392.50,334.87 L393.50,334.93 L394.50,334.99 L395.50,335.05 L396.50,335.10 L397.50,335.16 L398.50,335.21 L399.50,335.26 L400.50,335.30 L401.50,335.34 L402.50,335.38 L403.50,335.42 L404.50,335.46 L405.50,335.49 L405.50,336.00 L184.50,336.00 Z" fill="#00ffff" stroke="#00ffff" stroke-width="1.4" stroke-linejoin="round"/>
<path d="M101.50,320.61 L102.50,320.05 L103.50,319.47 L104.50,318.89 L105.50,318.29 L106.50,317.68 L107.50,317.06 L108.50,316.43 L109.50,315.79 L110.50,315.14 L111.50,314.48 L112.50,313.82 L113.50,313.14 L114.50,312.46 L115.50,311.77 L116.50,311.07 L117.50,310.36 L118.50,309.65 L119.50,308.94 L120.50,308.22 L121.50,307.50 L122.50,306.77 L123.50,306.04 L124.50,305.31 L125.50,304.58 L126.50,303.85 L127.50,303.12 L128.50,302.39 L129.50,301.67 L130.50,300.95 L131.50,300.23 L132.50,299.51 L133.50,298.81 L134.50,298.11 L135.50,297.41 L136.50,296.73 L137.50,296.05 L138.50,295.39 L139.50,294.74 L140.50,294.10 L141.50,293.47 L142.50,292.85 L143.50,292.25 L144.50,291.67 L145.50,291.10 L146.50,290.55 L147.50,290.02 L148.50,289.51 L149.50,289.02 L150.50,288.55 L151.50,288.09 L152.50,287.66 L153.50,287.26 L154.50,286.87 L155.50,286.51 L156.50,286.18 L157.50,285.87 L158.50,285.58 L159.50,285.32 L160.50,285.09 L161.50,284.88 L162.50,284.70 L163.50,284.55 L164.50,284.42 L165.50,284.33 L166.50,284.26 L167.50,284.21 L168.50,284.20 L169.50,284.21 L170.50,284.26 L171.50,284.33 L172.50,284.42 L173.50,284.55 L174.50,284.70 L175.50,284.88 L176.50,285.09 L177.50,285.32 L178.50,285.58 L179.50,285.87 L180.50,286.18 L181.50,286.51 L182.50,286.87 L183.50,287.26 L184.50,287.66 L185.50,288.09 L186.50,288.55 L187.50,289.02 L188.50,289.51 L189.50,290.02 L190.50,290.55 L191.50,291.10 L192.50,291.67 L193.50,292.25 L194.50,292.85 L195.50,293.47 L196.50,294.10 L197.50,294.74 L198.50,295.39 L199.50,296.05 L200.50,296.73 L201.50,297.41 L202.50,298.11 L203.50,298.81 L204.50,299.51 L205.50,300.23 L206.50,300.95 L207.50,301.67 L208.50,302.39 L209.50,303.12 L210.50,303.85 L211.50,304.58 L212.50,305.31 L213.50,306.04 L214.50,306.77 L215.50,307.50 L216.50,308.22 L217.50,308.94 L218.50,309.65 L219.50,310.36 L220.50,311.07 L221.50,311.77 L222.50,312.46 L223.50,313.14 L224.50,313.82 L225.50,314.50 L226.50,315.19 L227.50,315.87 L228.50,316.54 L229.50,317.20 L230.50,317.85 L231.50,318.49 L232.50,319.11 L233.50,319.73 L234.50,320.34 L235.50,320.93 L236.50,321.51 L237.50,322.08 L238.50,322.64 L239.50,323.18 L240.50,323.71 L241.50,324.24 L242.50,324.74 L243.50,325.24 L244.50,325.72 L245.50,326.19 L246.50,326.65 L247.50,327.09 L248.50,327.53 L249.50,327.95 L250.50,328.36 L251.50,328.75 L252.50,329.14 L253.50,329.51 L254.50,329.87 L255.50,330.23 L256.50,330.56 L257.50,330.89 L258.50,331.21 L259.50,331.52 L260.50,331.81 L261.50,332.10 L262.50,332.38 L263.50,332.64 L264.50,332.90 L265.50,333.15 L266.50,333.39 L267.50,333.62 L268.50,333.84 L269.50,334.05 L270.50,334.26 L271.50,334.45 L272.50,334.64 L273.50,334.83 L274.50,335.00 L275.50,335.17 L276.50,335.33 L277.50,335.49 L278.50,335.64 L279.50,335.78 L280.50,335.92 L281.50,336.00 L282.50,336.00 L283.50,336.00" fill="none" stroke="#008000" stroke-width="1.6" stroke-linejoin="round" stroke-linecap="butt"/>
<path d="M101.50,320.61 L102.50,320.05 L103.50,319.47 L104.50,318.89 L105.50,318.29 L106.50,317.68 L107.50,317.06 L108.50,316.43 L109.50,315.79 L110.50,315.14 L111.50,314.48 L112.50,313.82 L113.50,313.14 L114.50,312.46 L115.50,311.76 L116.50,311.07 L117.50,310.36 L118.50,309.65 L119.50,308.94 L120.50,308.22 L121.50,307.50 L122.50,306.77 L123.50,306.04 L124.50,305.31 L125.50,304.58 L126.50,303.85 L127.50,303.12 L128.50,302.39 L129.50,301.67 L130.50,300.94 L131.50,300.22 L132.50,299.51 L133.50,298.80 L134.50,298.10 L135.50,297.41 L136.50,296.72 L137.50,296.05 L138.50,295.38 L139.50,294.73 L140.50,294.09 L141.50,293.46 L142.50,292.85 L143.50,292.25 L144.50,291.66 L145.50,291.09 L146.50,290.54 L147.50,290.01 L148.50,289.50 L149.50,289.00 L150.50,288.53 L151.50,288.07 L152.50,287.64 L153.50,287.23 L154.50,286.85 L155.50,286.49 L156.50,286.15 L157.50,285.83 L158.50,285.54 L159.50,285.28 L160.50,285.04 L161.50,284.83 L162.50,284.65 L163.50,284.49 L164.50,284.36 L165.50,284.26 L166.50,284.18 L167.50,284.13 L168.50,284.11 L169.50,284.12 L170.50,284.15 L171.50,284.21 L172.50,284.30 L173.50,284.42 L174.50,284.56 L175.50,284.73 L176.50,284.92 L177.50,285.14 L178.50,285.39 L179.50,285.66 L180.50,285.95 L181.50,286.27 L182.50,286.61 L183.50,286.98 L184.50,287.36 L185.50,287.77 L186.50,288.20 L187.50,288.64 L188.50,289.11 L189.50,289.59 L190.50,290.09 L191.50,290.61 L192.50,291.14 L193.50,291.69 L194.50,292.24 L195.50,292.82 L196.50,293.40 L197.50,293.99 L198.50,294.60 L199.50,295.21 L200.50,295.83 L201.50,296.45 L202.50,297.08 L203.50,297.71 L204.50,298.35 L205.50,298.99 L206.50,299.63 L207.50,300.27 L208.50,300.91 L209.50,301.55 L210.50,302.18 L211.50,302.81 L212.50,303.44 L213.50,304.06 L214.50,304.67 L215.50,305.28 L216.50,305.87 L217.50,306.46 L218.50,307.03 L219.50,307.60 L220.50,308.15 L221.50,308.69 L222.50,309.21 L223.50,309.72 L224.50,310.22 L225.50,310.70 L226.50,311.16 L227.50,311.60 L228.50,312.03 L229.50,312.44 L230.50,312.83 L231.50,313.20 L232.50,313.55 L233.50,313.88 L234.50,314.19 L235.50,314.48 L236.50,314.74 L237.50,314.99 L238.50,315.21 L239.50,315.41 L240.50,315.59 L241.50,315.74 L242.50,315.87 L243.50,315.98 L244.50,316.06 L245.50,316.12 L246.50,316.16 L247.50,316.18 L248.50,316.17 L249.50,316.14 L250.50,316.08 L251.50,316.00 L252.50,315.90 L253.50,315.78 L254.50,315.63 L255.50,315.46 L256.50,315.27 L257.50,315.06 L258.50,314.82 L259.50,314.57 L260.50,314.30 L261.50,314.00 L262.50,313.69 L263.50,313.35 L264.50,313.00 L265.50,312.63 L266.50,312.25 L267.50,311.85 L268.50,311.43 L269.50,310.99 L270.50,310.54 L271.50,310.08 L272.50,309.61 L273.50,309.12 L274.50,308.62 L275.50,308.11 L276.50,307.60 L277.50,307.07 L278.50,306.53 L279.50,305.99 L280.50,305.44 L281.50,304.89 L282.50,304.34 L283.50,303.78 L284.50,303.22 L285.50,302.66 L286.50,302.10 L287.50,301.54 L288.50,300.98 L289.50,300.43 L290.50,299.88 L291.50,299.34 L292.50,298.80 L293.50,298.27 L294.50,297.75 L295.50,297.24 L296.50,296.75 L297.50,296.26 L298.50,295.79 L299.50,295.33 L300.50,294.89 L301.50,294.46 L302.50,294.05 L303.50,293.66 L304.50,293.29 L305.50,292.94 L306.50,292.61 L307.50,292.30 L308.50,292.01 L309.50,291.75 L310.50,291.51 L311.50,291.29 L312.50,291.10 L313.50,290.93 L314.50,290.79 L315.50,290.68 L316.50,290.60 L317.50,290.54 L318.50,290.51 L319.50,290.50 L320.50,290.53 L321.50,290.58 L322.50,290.66 L323.50,290.77 L324.50,290.90 L325.50,291.07 L326.50,291.26 L327.50,291.48 L328.50,291.72 L329.50,292.00 L330.50,292.30 L331.50,292.62 L332.50,292.97 L333.50,293.35 L334.50,293.75 L335.50,294.17 L336.50,294.62 L337.50,295.09 L338.50,295.58 L339.50,296.09 L340.50,296.62 L341.50,297.17 L342.50,297.73 L343.50,298.32 L344.50,298.92 L345.50,299.53 L346.50,300.16 L347.50,300.80 L348.50,301.45 L349.50,302.12 L350.50,302.79 L351.50,303.48 L352.50,304.17 L353.50,304.86 L354.50,305.57 L355.50,306.27 L356.50,306.98 L357.50,307.70 L358.50,308.41 L359.50,309.13 L360.50,309.84 L361.50,310.56 L362.50,311.27 L363.50,311.98 L364.50,312.68 L365.50,313.38 L366.50,314.07 L367.50,314.76 L368.50,315.44 L369.50,316.11 L370.50,316.78 L371.50,317.43 L372.50,318.08 L373.50,318.71 L374.50,319.34 L375.50,319.95 L376.50,320.55 L377.50,321.14 L378.50,321.72 L379.50,322.28 L380.50,322.83 L381.50,323.37 L382.50,323.90 L383.50,324.41 L384.50,324.91 L385.50,325.39 L386.50,325.86 L387.50,326.32 L388.50,326.76 L389.50,327.19 L390.50,327.60 L391.50,328.00 L392.50,328.39 L393.50,328.76 L394.50,329.12 L395.50,329.47 L396.50,329.80 L397.50,330.13 L398.50,330.43 L399.50,330.73 L400.50,331.01 L401.50,331.29 L402.50,331.55 L403.50,331.80 L404.50,332.03 L405.50,332.26" fill="none" stroke="#ff0000" stroke-width="1.6" stroke-linejoin="round" stroke-linecap="butt"/>
<path d="M101.50,320.53 L102.30,320.88 L103.10,320.01 L103.90,318.74 L104.70,318.78 L105.50,318.95 L106.30,318.54 L107.10,317.59 L107.90,316.63 L108.70,316.37 L109.50,316.07 L110.30,315.07 L111.10,314.28 L111.90,314.11 L112.70,314.35 L113.50,314.34 L114.30,313.70 L115.10,312.96 L115.90,311.91 L116.70,310.41 L117.50,309.63 L118.30,309.72 L119.10,309.62 L119.90,308.94 L120.70,307.58 L121.50,306.83 L122.30,306.98 L123.10,306.82 L123.90,306.28 L124.70,305.14 L125.50,304.99 L126.30,305.41 L127.10,304.35 L127.90,303.86 L128.70,303.70 L129.50,302.22 L130.30,301.04 L131.10,300.80 L131.90,299.98 L132.70,298.44 L133.50,298.22 L134.30,297.94 L135.10,296.66 L135.90,296.05 L136.70,295.53 L137.50,295.64 L138.30,295.82 L139.10,294.74 L139.90,294.11 L140.70,293.72 L141.50,293.16 L142.30,293.12 L143.10,292.34 L143.90,291.52 L144.70,291.20 L145.50,291.21 L146.30,291.66 L147.10,291.62 L147.90,290.63 L148.70,288.34 L149.50,286.53 L150.30,287.27 L151.10,288.18 L151.90,287.61 L152.70,286.75 L153.50,286.69 L154.30,286.87 L155.10,286.13 L155.90,285.67 L156.70,286.10 L157.50,287.23 L158.30,286.92 L159.10,286.11 L159.90,286.17 L160.70,285.55 L161.50,284.84 L162.30,284.71 L163.10,284.47 L163.90,284.21 L164.70,284.17 L165.50,284.44 L166.30,283.53 L167.10,282.18 L167.90,282.53 L168.70,283.40 L169.50,284.05 L170.30,284.43 L171.10,284.34 L171.90,284.08 L172.70,284.14 L173.50,285.42 L174.30,286.38 L175.10,285.52 L175.90,284.03 L176.70,283.26 L177.50,284.47 L178.30,286.12 L179.10,286.69 L179.90,286.87 L180.70,287.15 L181.50,287.93 L182.30,288.40 L183.10,287.82 L183.90,287.93 L184.70,288.50 L185.50,288.25 L186.30,288.13 L187.10,289.29 L187.90,290.03 L188.70,290.50 L189.50,291.19 L190.30,291.43 L191.10,291.96 L191.90,292.53 L192.70,292.03 L193.50,292.05 L194.30,292.90 L195.10,293.41 L195.90,294.27 L196.70,295.28 L197.50,295.34 L198.30,296.36 L199.10,297.50 L199.90,297.76 L200.70,297.50 L201.50,297.66 L202.30,297.88 L203.10,297.68 L203.90,298.59 L204.70,300.07 L205.50,300.67 L206.30,301.27 L207.10,302.85 L207.90,303.78 L208.70,302.95 L209.50,302.17 L210.30,302.55 L211.10,303.35 L211.90,304.66 L212.70,305.77 L213.50,306.08 L214.30,305.85 L215.10,305.27 L215.90,305.40 L216.70,305.97 L217.50,306.11 L218.30,306.38 L219.10,306.90 L219.90,307.65 L220.70,308.98 L221.50,309.98 L222.30,309.14 L223.10,308.45 L223.90,309.14 L224.70,310.20 L225.50,310.68 L226.30,311.19 L227.10,311.61 L227.90,312.02 L228.70,311.28 L229.50,310.37 L230.30,310.60 L231.10,311.61 L231.90,313.25 L232.70,314.04 L233.50,313.56 L234.30,313.37 L235.10,313.60 L235.90,313.79 L236.70,313.99 L237.50,313.44 L238.30,314.01 L239.10,315.31 L239.90,315.49 L240.70,315.20 L241.50,315.22 L242.30,315.58 L243.10,315.60 L243.90,316.37 L244.70,318.42 L245.50,318.19 L246.30,316.47 L247.10,315.47 L247.90,315.01 L248.70,315.77 L249.50,316.50 L250.30,316.09 L251.10,316.16 L251.90,316.15 L252.70,315.81 L253.50,315.82 L254.30,316.43 L255.10,317.12 L255.90,316.16 L256.70,314.41 L257.50,314.94 L258.30,315.80 L259.10,315.60 L259.90,315.05 L260.70,314.19 L261.50,313.24 L262.30,312.90 L263.10,313.04 L263.90,313.30 L264.70,312.71 L265.50,311.88 L266.30,311.98 L267.10,312.74 L267.90,313.05 L268.70,311.95 L269.50,310.48 L270.30,310.92 L271.10,312.07 L271.90,311.10 L272.70,309.76 L273.50,309.62 L274.30,309.34 L275.10,308.53 L275.90,307.79 L276.70,307.88 L277.50,308.13 L278.30,307.83 L279.10,307.41 L279.90,307.01 L280.70,307.43 L281.50,307.19 L282.30,305.87 L283.10,305.90 L283.90,305.81 L284.70,305.15 L285.50,304.83 L286.30,304.12 L287.10,303.55 L287.90,303.48 L288.70,303.00 L289.50,301.30 L290.30,299.92 L291.10,300.03 L291.90,300.43 L292.70,300.53 L293.50,299.82 L294.30,299.18 L295.10,298.80 L295.90,298.08 L296.70,297.77 L297.50,297.69 L298.30,297.73 L299.10,297.61 L299.90,296.63 L300.70,295.91 L301.50,296.08 L302.30,296.66 L303.10,296.38 L303.90,295.94 L304.70,295.75 L305.50,294.29 L306.30,293.57 L307.10,294.21 L307.90,293.96 L308.70,293.26 L309.50,292.51 L310.30,291.66 L311.10,292.40 L311.90,293.35 L312.70,292.92 L313.50,292.91 L314.30,292.99 L315.10,292.71 L315.90,292.32 L316.70,291.73 L317.50,291.31 L318.30,291.76 L319.10,292.90 L319.90,293.55 L320.70,293.03 L321.50,291.91 L322.30,290.83 L323.10,291.20 L323.90,292.88 L324.70,293.27 L325.50,293.23 L326.30,293.43 L327.10,293.31 L327.90,293.36 L328.70,293.76 L329.50,293.90 L330.30,293.19 L331.10,292.16 L331.90,292.39 L332.70,294.13 L333.50,295.27 L334.30,295.43 L335.10,295.30 L335.90,295.15 L336.70,295.84 L337.50,296.77 L338.30,297.54 L339.10,297.66 L339.90,296.90 L340.70,296.85 L341.50,297.83 L342.30,299.10 L343.10,300.50 L343.90,300.84 L344.70,300.43 L345.50,300.19 L346.30,299.52 L347.10,300.08 L347.90,301.11 L348.70,301.39 L349.50,301.08 L350.30,300.63 L351.10,301.19 L351.90,302.52 L352.70,303.13 L353.50,303.56 L354.30,304.20 L355.10,304.50 L355.90,304.22 L356.70,304.27 L357.50,304.65 L358.30,305.12 L359.10,305.62 L359.90,305.12 L360.70,304.42 L361.50,306.19 L362.30,307.57 L363.10,306.72 L363.90,307.04 L364.70,309.02 L365.50,310.66 L366.30,310.94 L367.10,310.84 L367.90,310.93 L368.70,310.27 L369.50,309.41 L370.30,309.90 L371.10,311.13 L371.90,311.15 L372.70,310.67 L373.50,311.26 L374.30,312.81 L375.10,313.46 L375.90,312.69 L376.70,312.70 L377.50,313.38 L378.30,312.72 L379.10,313.02 L379.90,315.33 L380.70,316.82 L381.50,316.89 L382.30,316.43 L383.10,316.91 L383.90,317.10 L384.70,315.29 L385.50,315.23 L386.30,318.29 L387.10,320.01 L387.90,319.32 L388.70,318.28 L389.50,317.87 L390.30,318.67 L391.10,320.46 L391.90,321.42 L392.70,320.36 L393.50,319.80 L394.30,320.58 L395.10,320.88 L395.90,321.04 L396.70,321.90 L397.50,322.41 L398.30,322.47 L399.10,322.28 L399.90,322.10 L400.70,322.47 L401.50,322.89 L402.30,323.19 L403.10,323.30 L403.90,323.30 L404.70,323.57 L405.50,324.13" fill="none" stroke="#000" stroke-width="1.5" stroke-linejoin="round" stroke-linecap="butt"/>
</g>
<line x1="303.2" y1="45.0" x2="303.2" y2="336.0" stroke="#000" stroke-width="1.5" stroke-dasharray="8.3 3.55"/>
<line x1="329.5" y1="43.4" x2="329.5" y2="336.0" stroke="#000" stroke-width="1.5" stroke-dasharray="8.8 2.5 2.2 2.5"/>
<path d="M101.5,336.7 L101.5,44.3 L405.8,44.3 L405.8,336.7" fill="none" stroke="#000" stroke-width="1.35" stroke-linejoin="miter"/>
<line x1="101.50" y1="141.5" x2="101.50" y2="148.1" stroke="#000" stroke-width="1.3"/>
<line x1="135.30" y1="141.5" x2="135.30" y2="144.9" stroke="#000" stroke-width="1.3"/>
<line x1="169.10" y1="141.5" x2="169.10" y2="148.1" stroke="#000" stroke-width="1.3"/>
<line x1="202.90" y1="141.5" x2="202.90" y2="144.9" stroke="#000" stroke-width="1.3"/>
<line x1="236.70" y1="141.5" x2="236.70" y2="148.1" stroke="#000" stroke-width="1.3"/>
<line x1="270.50" y1="141.5" x2="270.50" y2="144.9" stroke="#000" stroke-width="1.3"/>
<line x1="304.30" y1="141.5" x2="304.30" y2="148.1" stroke="#000" stroke-width="1.3"/>
<line x1="338.10" y1="141.5" x2="338.10" y2="144.9" stroke="#000" stroke-width="1.3"/>
<line x1="371.90" y1="141.5" x2="371.90" y2="148.1" stroke="#000" stroke-width="1.3"/>
<line x1="405.70" y1="141.5" x2="405.70" y2="144.9" stroke="#000" stroke-width="1.3"/>
<line x1="101.50" y1="238.8" x2="101.50" y2="245.4" stroke="#000" stroke-width="1.3"/>
<line x1="135.30" y1="238.8" x2="135.30" y2="242.20000000000002" stroke="#000" stroke-width="1.3"/>
<line x1="169.10" y1="238.8" x2="169.10" y2="245.4" stroke="#000" stroke-width="1.3"/>
<line x1="202.90" y1="238.8" x2="202.90" y2="242.20000000000002" stroke="#000" stroke-width="1.3"/>
<line x1="236.70" y1="238.8" x2="236.70" y2="245.4" stroke="#000" stroke-width="1.3"/>
<line x1="270.50" y1="238.8" x2="270.50" y2="242.20000000000002" stroke="#000" stroke-width="1.3"/>
<line x1="304.30" y1="238.8" x2="304.30" y2="245.4" stroke="#000" stroke-width="1.3"/>
<line x1="338.10" y1="238.8" x2="338.10" y2="242.20000000000002" stroke="#000" stroke-width="1.3"/>
<line x1="371.90" y1="238.8" x2="371.90" y2="245.4" stroke="#000" stroke-width="1.3"/>
<line x1="405.70" y1="238.8" x2="405.70" y2="242.20000000000002" stroke="#000" stroke-width="1.3"/>
<line x1="101.50" y1="336.0" x2="101.50" y2="342.6" stroke="#000" stroke-width="1.3"/>
<line x1="135.30" y1="336.0" x2="135.30" y2="339.4" stroke="#000" stroke-width="1.3"/>
<line x1="169.10" y1="336.0" x2="169.10" y2="342.6" stroke="#000" stroke-width="1.3"/>
<line x1="202.90" y1="336.0" x2="202.90" y2="339.4" stroke="#000" stroke-width="1.3"/>
<line x1="236.70" y1="336.0" x2="236.70" y2="342.6" stroke="#000" stroke-width="1.3"/>
<line x1="270.50" y1="336.0" x2="270.50" y2="339.4" stroke="#000" stroke-width="1.3"/>
<line x1="304.30" y1="336.0" x2="304.30" y2="342.6" stroke="#000" stroke-width="1.3"/>
<line x1="338.10" y1="336.0" x2="338.10" y2="339.4" stroke="#000" stroke-width="1.3"/>
<line x1="371.90" y1="336.0" x2="371.90" y2="342.6" stroke="#000" stroke-width="1.3"/>
<line x1="405.70" y1="336.0" x2="405.70" y2="339.4" stroke="#000" stroke-width="1.3"/>
<line x1="303.2" y1="11.8" x2="303.2" y2="27" stroke="#000" stroke-width="1.5"/>
<path d="M297.9,25.5 L308.5,25.5 L303.2,41 Z" fill="#000"/>
<line x1="328.1" y1="11.8" x2="328.1" y2="27" stroke="#000" stroke-width="1.5"/>
<path d="M322.8,25.5 L333.40000000000003,25.5 L328.1,41 Z" fill="#000"/>
<line x1="262.2" y1="14.3" x2="262.2" y2="34.3" stroke="#000" stroke-width="1.2"/><text x="264.8" y="30" font-size="17" font-family="Liberation Sans, sans-serif" fill="#000">F</text><path d="M276.4,14.5 L281.2,24.2 L276.4,34" fill="none" stroke="#000" stroke-width="1.2"/>
<line x1="349.9" y1="14.3" x2="349.9" y2="34.3" stroke="#000" stroke-width="1.2"/><text x="352.3" y="30" font-size="17" font-family="Liberation Sans, sans-serif" fill="#000">A</text><path d="M365.4,14.5 L370.4,24.2 L365.4,34" fill="none" stroke="#000" stroke-width="1.2"/>
<text transform="translate(105.3,63.8) scale(0.985,1)" font-size="17.5" text-anchor="start" font-family="Liberation Sans, sans-serif" fill="#000" stroke="#000" stroke-width="0.3">2.2 K</text>
<text transform="translate(105.6,166.5) scale(0.985,1)" font-size="17.5" text-anchor="start" font-family="Liberation Sans, sans-serif" fill="#000" stroke="#000" stroke-width="0.3">7 K</text>
<text transform="translate(105.4,262.2) scale(0.985,1)" font-size="17.5" text-anchor="start" font-family="Liberation Sans, sans-serif" fill="#000" stroke="#000" stroke-width="0.3">30 K</text>
<text transform="translate(399.6,64.1) scale(0.975,1)" font-size="17.5" text-anchor="end" font-family="Liberation Sans, sans-serif" fill="#000" stroke="#000" stroke-width="0.3">5ML</text>
<text transform="translate(101.5,362.0) scale(0.95,1)" font-size="19.5" text-anchor="middle" font-family="Liberation Sans, sans-serif" fill="#000" stroke="#000" stroke-width="0.3">2.29</text>
<text transform="translate(169.1,362.0) scale(0.95,1)" font-size="19.5" text-anchor="middle" font-family="Liberation Sans, sans-serif" fill="#000" stroke="#000" stroke-width="0.3">2.30</text>
<text transform="translate(236.7,362.0) scale(0.95,1)" font-size="19.5" text-anchor="middle" font-family="Liberation Sans, sans-serif" fill="#000" stroke="#000" stroke-width="0.3">2.31</text>
<text transform="translate(304.3,362.0) scale(0.95,1)" font-size="19.5" text-anchor="middle" font-family="Liberation Sans, sans-serif" fill="#000" stroke="#000" stroke-width="0.3">2.32</text>
<text transform="translate(371.9,362.0) scale(0.95,1)" font-size="19.5" text-anchor="middle" font-family="Liberation Sans, sans-serif" fill="#000" stroke="#000" stroke-width="0.3">2.33</text>
<text transform="translate(255.1,393.3) scale(0.915,1)" font-size="22.6" text-anchor="middle" font-family="Liberation Sans, sans-serif" fill="#000" stroke="#000" stroke-width="0.3">Energy (eV)</text>
<text transform="translate(76.6,189.5) rotate(-90) scale(0.925,1)" font-size="22.2" text-anchor="middle" font-family="Liberation Sans, sans-serif" fill="#000" stroke="#000" stroke-width="0.3">PL intensity</text>
</svg>
</body></html>
